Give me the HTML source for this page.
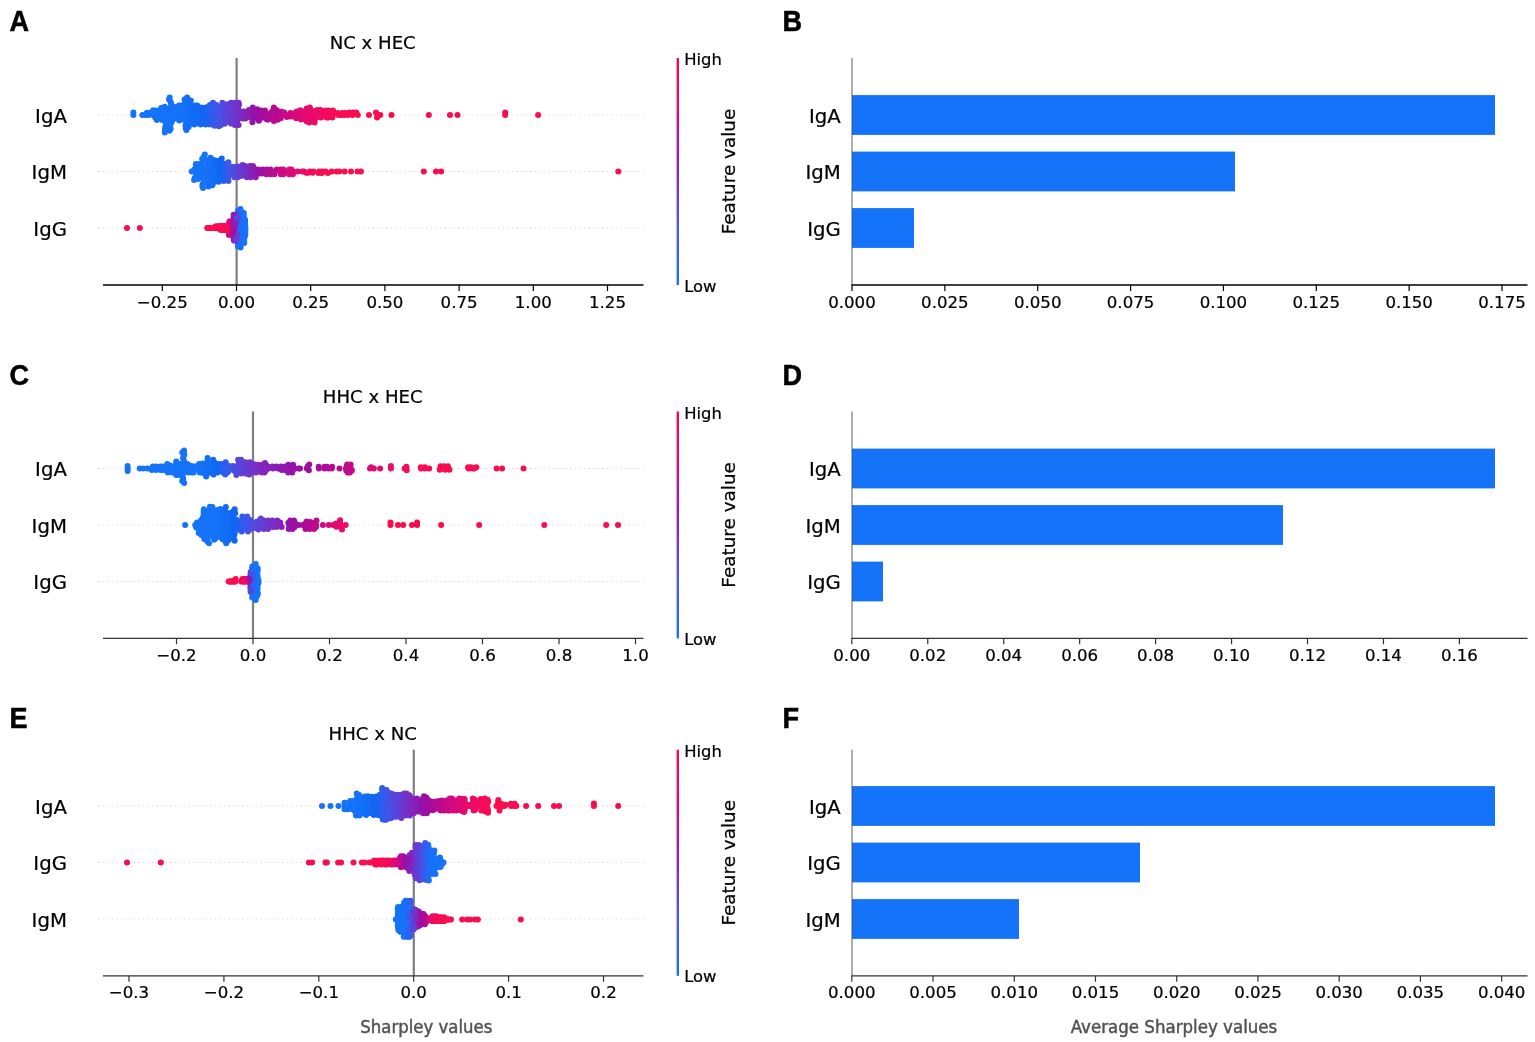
<!DOCTYPE html>
<html><head><meta charset="utf-8"><title>Figure</title>
<style>html,body{margin:0;padding:0;background:#fff;overflow:hidden}svg{display:block}</style></head>
<body>
<svg width="1535" height="1042" viewBox="0 0 1535 1042">
<defs><linearGradient id="cb" x1="0" y1="0" x2="0" y2="1"><stop offset="0" stop-color="#fa0a50"/><stop offset="0.25" stop-color="#d20a82"/><stop offset="0.5" stop-color="#8c28be"/><stop offset="0.75" stop-color="#505ae1"/><stop offset="1" stop-color="#1473fa"/></linearGradient></defs>
<rect width="1535" height="1042" fill="#fff"/>
<text transform="translate(9.5,30.9) scale(0.94,1)" font-size="28.8" font-weight="bold" stroke="#000" stroke-width="0.5" font-family="Liberation Sans, sans-serif" fill="#000">A</text>
<text x="372.7" y="49.2" font-size="18.1" text-anchor="middle" font-family="DejaVu Sans, Liberation Sans, sans-serif" stroke="#000" stroke-width="0.22" fill="#000" >NC x HEC</text>
<line x1="98" x2="644.5" y1="115" y2="115" stroke="#dadada" stroke-width="1" stroke-dasharray="1.4,3.1"/>
<line x1="98" x2="644.5" y1="171.5" y2="171.5" stroke="#dadada" stroke-width="1" stroke-dasharray="1.4,3.1"/>
<line x1="98" x2="644.5" y1="228" y2="228" stroke="#dadada" stroke-width="1" stroke-dasharray="1.4,3.1"/>
<text x="66.9" y="122.6" font-size="19.7" text-anchor="end" font-family="DejaVu Sans, Liberation Sans, sans-serif" stroke="#000" stroke-width="0.22" fill="#000" >IgA</text>
<text x="66.9" y="179.1" font-size="19.7" text-anchor="end" font-family="DejaVu Sans, Liberation Sans, sans-serif" stroke="#000" stroke-width="0.22" fill="#000" >IgM</text>
<text x="66.9" y="235.6" font-size="19.7" text-anchor="end" font-family="DejaVu Sans, Liberation Sans, sans-serif" stroke="#000" stroke-width="0.22" fill="#000" >IgG</text>
<line x1="236.6" x2="236.6" y1="58" y2="285" stroke="#7f7f7f" stroke-width="2.2"/>
<g fill="#1573fa"><circle cx="148.9" cy="115.0" r="3"/><circle cx="169.5" cy="130.8" r="3"/><circle cx="173.6" cy="117.4" r="3"/><circle cx="171.0" cy="106.2" r="3"/><circle cx="153.1" cy="115.0" r="3"/><circle cx="146.9" cy="112.8" r="3"/><circle cx="178.9" cy="105.5" r="3"/><circle cx="150.0" cy="112.7" r="3"/><circle cx="161.3" cy="110.3" r="3"/><circle cx="166.4" cy="112.9" r="3"/><circle cx="156.9" cy="120.1" r="3"/><circle cx="133.4" cy="112.5" r="3"/><circle cx="156.8" cy="110.4" r="3"/><circle cx="155.2" cy="117.5" r="3"/><circle cx="164.8" cy="119.4" r="3"/><circle cx="177.4" cy="118.7" r="3"/><circle cx="164.7" cy="106.7" r="3"/><circle cx="166.3" cy="110.9" r="3"/><circle cx="175.1" cy="107.0" r="3"/><circle cx="170.1" cy="108.4" r="3"/><circle cx="169.4" cy="117.0" r="3"/><circle cx="164.9" cy="130.4" r="3"/><circle cx="165.0" cy="121.6" r="3"/><circle cx="167.2" cy="123.8" r="3"/><circle cx="159.0" cy="115.0" r="3"/><circle cx="169.7" cy="97.4" r="3"/><circle cx="169.7" cy="115.0" r="3"/><circle cx="165.2" cy="115.0" r="3"/><circle cx="159.4" cy="117.6" r="3"/><circle cx="177.0" cy="113.1" r="3"/><circle cx="165.6" cy="126.0" r="3"/><circle cx="169.7" cy="110.6" r="3"/><circle cx="163.1" cy="112.7" r="3"/><circle cx="173.7" cy="115.0" r="3"/><circle cx="173.3" cy="111.0" r="3"/><circle cx="160.9" cy="115.0" r="3"/><circle cx="178.2" cy="116.8" r="3"/><circle cx="162.8" cy="117.6" r="3"/><circle cx="177.1" cy="107.4" r="3"/><circle cx="175.3" cy="109.0" r="3"/><circle cx="162.1" cy="120.1" r="3"/><circle cx="161.2" cy="108.0" r="3"/><circle cx="171.3" cy="104.0" r="3"/><circle cx="167.2" cy="117.2" r="3"/><circle cx="172.6" cy="113.0" r="3"/><circle cx="142.3" cy="115.0" r="3"/><circle cx="153.1" cy="110.2" r="3"/><circle cx="170.6" cy="101.8" r="3"/><circle cx="171.3" cy="122.9" r="3"/><circle cx="170.7" cy="112.8" r="3"/><circle cx="177.4" cy="115.0" r="3"/><circle cx="170.3" cy="120.9" r="3"/><circle cx="170.0" cy="118.9" r="3"/><circle cx="170.0" cy="124.9" r="3"/><circle cx="172.6" cy="119.9" r="3"/><circle cx="169.0" cy="99.6" r="3"/><circle cx="169.1" cy="126.8" r="3"/><circle cx="177.2" cy="111.2" r="3"/><circle cx="156.7" cy="112.7" r="3"/><circle cx="170.7" cy="128.8" r="3"/><circle cx="165.0" cy="128.2" r="3"/><circle cx="145.7" cy="115.0" r="3"/><circle cx="166.4" cy="108.8" r="3"/><circle cx="133.4" cy="115.0" r="3"/><circle cx="164.8" cy="132.6" r="3"/><circle cx="177.6" cy="109.3" r="3"/><circle cx="153.5" cy="112.6" r="3"/></g>
<g fill="#1471f9"><circle cx="181.8" cy="117.4" r="3"/><circle cx="181.6" cy="109.3" r="3"/><circle cx="181.4" cy="105.5" r="3"/><circle cx="181.5" cy="111.2" r="3"/><circle cx="181.3" cy="107.4" r="3"/></g>
<g fill="#1964f1"><circle cx="205.6" cy="116.9" r="3"/><circle cx="205.6" cy="122.6" r="3"/><circle cx="205.6" cy="124.5" r="3"/></g>
<g fill="#136ff7"><circle cx="187.0" cy="110.6" r="3"/><circle cx="187.1" cy="97.4" r="3"/><circle cx="187.2" cy="106.2" r="3"/><circle cx="187.1" cy="117.2" r="3"/></g>
<g fill="#4155e8"><circle cx="216.9" cy="117.2" r="3"/><circle cx="216.9" cy="115.0" r="3"/><circle cx="216.9" cy="113.0" r="3"/></g>
<g fill="#4652e6"><circle cx="218.5" cy="107.0" r="3"/></g>
<g fill="#de0a76"><circle cx="300.9" cy="117.3" r="3"/><circle cx="301.0" cy="119.5" r="3"/></g>
<g fill="#8f18b1"><circle cx="250.8" cy="117.8" r="3"/></g>
<g fill="#6140d6"><circle cx="228.7" cy="113.0" r="3"/><circle cx="228.7" cy="110.9" r="3"/></g>
<g fill="#9314ad"><circle cx="252.9" cy="117.4" r="3"/><circle cx="253.0" cy="119.8" r="3"/></g>
<g fill="#be0a8e"><circle cx="277.1" cy="117.4" r="3"/></g>
<g fill="#7530c8"><circle cx="237.6" cy="113.0" r="3"/></g>
<g fill="#ed0a65"><circle cx="317.3" cy="110.0" r="3"/></g>
<g fill="#e90a6a"><circle cx="312.7" cy="115.0" r="3"/><circle cx="312.3" cy="118.8" r="3"/></g>
<g fill="#2e5dee"><circle cx="211.1" cy="120.7" r="3"/></g>
<g fill="#6f34cc"><circle cx="235.1" cy="110.9" r="3"/></g>
<g fill="#136ff8"><circle cx="186.6" cy="108.4" r="3"/><circle cx="186.4" cy="130.1" r="3"/><circle cx="186.1" cy="123.6" r="3"/><circle cx="185.5" cy="125.8" r="3"/><circle cx="186.2" cy="112.8" r="3"/><circle cx="185.5" cy="119.3" r="3"/><circle cx="185.7" cy="128.0" r="3"/><circle cx="186.3" cy="101.8" r="3"/><circle cx="186.2" cy="121.5" r="3"/></g>
<g fill="#0f67f3"><circle cx="202.8" cy="118.8" r="3"/><circle cx="203.1" cy="109.3" r="3"/><circle cx="202.2" cy="113.1" r="3"/><circle cx="203.1" cy="120.7" r="3"/><circle cx="202.8" cy="115.0" r="3"/></g>
<g fill="#4e4ce1"><circle cx="221.6" cy="119.0" r="3"/><circle cx="221.5" cy="120.9" r="3"/><circle cx="221.6" cy="122.9" r="3"/><circle cx="221.6" cy="113.0" r="3"/></g>
<g fill="#d80a7c"><circle cx="294.8" cy="113.0" r="3"/></g>
<g fill="#6939d0"><circle cx="232.5" cy="106.8" r="3"/><circle cx="232.5" cy="113.0" r="3"/></g>
<g fill="#b00b98"><circle cx="268.8" cy="117.3" r="3"/></g>
<g fill="#524adf"><circle cx="223.1" cy="108.9" r="3"/><circle cx="223.1" cy="104.8" r="3"/><circle cx="223.0" cy="117.0" r="3"/></g>
<g fill="#285fee"><circle cx="209.8" cy="106.9" r="3"/></g>
<g fill="#b70a92"><circle cx="272.9" cy="113.1" r="3"/></g>
<g fill="#1068f4"><circle cx="200.8" cy="111.2" r="3"/><circle cx="200.7" cy="124.5" r="3"/><circle cx="200.5" cy="116.9" r="3"/></g>
<g fill="#e20a71"><circle cx="305.3" cy="119.3" r="3"/><circle cx="305.9" cy="110.7" r="3"/></g>
<g fill="#bf0a8d"><circle cx="277.8" cy="119.7" r="3"/><circle cx="277.9" cy="115.0" r="3"/><circle cx="278.3" cy="112.6" r="3"/></g>
<g fill="#fa0c50"><circle cx="505.2" cy="112.5" r="3"/><circle cx="342.4" cy="113.0" r="3"/><circle cx="377.9" cy="115.0" r="3"/><circle cx="505.2" cy="115.0" r="3"/><circle cx="391.5" cy="115.0" r="3"/><circle cx="344.4" cy="115.0" r="3"/><circle cx="369.0" cy="115.0" r="3"/><circle cx="357.8" cy="115.0" r="3"/><circle cx="428.8" cy="115.0" r="3"/><circle cx="376.0" cy="112.4" r="3"/><circle cx="356.2" cy="112.4" r="3"/><circle cx="345.4" cy="113.0" r="3"/><circle cx="349.4" cy="112.4" r="3"/><circle cx="450.0" cy="115.0" r="3"/><circle cx="380.3" cy="115.0" r="3"/><circle cx="352.9" cy="112.4" r="3"/><circle cx="457.5" cy="115.0" r="3"/><circle cx="352.5" cy="115.0" r="3"/><circle cx="377.0" cy="117.6" r="3"/><circle cx="348.0" cy="115.0" r="3"/><circle cx="341.4" cy="115.0" r="3"/><circle cx="538.1" cy="115.0" r="3"/></g>
<g fill="#126ef7"><circle cx="188.6" cy="102.6" r="3"/><circle cx="188.7" cy="115.0" r="3"/><circle cx="188.6" cy="127.0" r="3"/><circle cx="189.2" cy="106.7" r="3"/><circle cx="188.9" cy="125.0" r="3"/><circle cx="188.6" cy="121.0" r="3"/></g>
<g fill="#355aec"><circle cx="213.0" cy="102.7" r="3"/><circle cx="213.0" cy="113.0" r="3"/><circle cx="213.2" cy="123.5" r="3"/></g>
<g fill="#116bf5"><circle cx="195.3" cy="122.6" r="3"/><circle cx="194.8" cy="105.5" r="3"/><circle cx="194.8" cy="115.0" r="3"/><circle cx="194.3" cy="124.5" r="3"/><circle cx="194.1" cy="111.2" r="3"/><circle cx="195.2" cy="116.9" r="3"/></g>
<g fill="#e50a6e"><circle cx="308.6" cy="120.7" r="3"/><circle cx="308.6" cy="115.0" r="3"/></g>
<g fill="#de0a75"><circle cx="301.8" cy="112.6" r="3"/><circle cx="301.8" cy="115.0" r="3"/></g>
<g fill="#5c43d9"><circle cx="226.7" cy="117.2" r="3"/><circle cx="226.8" cy="121.6" r="3"/></g>
<g fill="#d10a81"><circle cx="290.2" cy="115.0" r="3"/><circle cx="290.3" cy="116.4" r="3"/></g>
<g fill="#6f35cc"><circle cx="234.8" cy="124.9" r="3"/><circle cx="234.9" cy="117.0" r="3"/></g>
<g fill="#6b38cf"><circle cx="233.0" cy="108.9" r="3"/></g>
<g fill="#6f35cd"><circle cx="234.7" cy="102.7" r="3"/><circle cx="234.8" cy="119.0" r="3"/></g>
<g fill="#8d1ab3"><circle cx="250.1" cy="115.0" r="3"/><circle cx="249.9" cy="112.4" r="3"/></g>
<g fill="#c20a8b"><circle cx="280.2" cy="116.6" r="3"/></g>
<g fill="#e60a6c"><circle cx="310.2" cy="111.2" r="3"/><circle cx="309.9" cy="107.4" r="3"/><circle cx="310.0" cy="116.9" r="3"/><circle cx="310.2" cy="118.8" r="3"/></g>
<g fill="#a90c9c"><circle cx="265.4" cy="117.3" r="3"/><circle cx="265.5" cy="112.7" r="3"/></g>
<g fill="#f00a60"><circle cx="322.6" cy="112.4" r="3"/></g>
<g fill="#1b63f1"><circle cx="206.3" cy="115.0" r="3"/></g>
<g fill="#653dd3"><circle cx="230.4" cy="117.1" r="3"/></g>
<g fill="#8027c0"><circle cx="242.5" cy="115.0" r="3"/><circle cx="242.6" cy="118.5" r="3"/><circle cx="242.7" cy="113.2" r="3"/></g>
<g fill="#9c0ea5"><circle cx="258.3" cy="111.1" r="3"/></g>
<g fill="#1069f4"><circle cx="197.9" cy="109.3" r="3"/><circle cx="198.7" cy="115.0" r="3"/><circle cx="199.2" cy="123.4" r="3"/><circle cx="198.7" cy="111.2" r="3"/><circle cx="198.1" cy="107.4" r="3"/></g>
<g fill="#663cd2"><circle cx="231.0" cy="102.7" r="3"/></g>
<g fill="#126df6"><circle cx="190.9" cy="119.0" r="3"/><circle cx="191.1" cy="117.0" r="3"/><circle cx="191.2" cy="108.8" r="3"/><circle cx="190.8" cy="100.5" r="3"/><circle cx="191.1" cy="112.9" r="3"/></g>
<g fill="#762fc7"><circle cx="238.1" cy="119.0" r="3"/></g>
<g fill="#1472f9"><circle cx="180.6" cy="119.7" r="3"/><circle cx="181.0" cy="115.0" r="3"/></g>
<g fill="#f50b58"><circle cx="332.4" cy="117.6" r="3"/><circle cx="332.8" cy="115.0" r="3"/></g>
<g fill="#4254e7"><circle cx="217.4" cy="121.7" r="3"/></g>
<g fill="#eb0a68"><circle cx="314.6" cy="122.6" r="3"/><circle cx="314.5" cy="120.7" r="3"/></g>
<g fill="#514adf"><circle cx="222.8" cy="115.0" r="3"/></g>
<g fill="#b80a92"><circle cx="273.5" cy="118.9" r="3"/></g>
<g fill="#e30a70"><circle cx="306.6" cy="108.6" r="3"/><circle cx="306.8" cy="117.1" r="3"/><circle cx="306.7" cy="121.4" r="3"/></g>
<g fill="#eb0a67"><circle cx="314.8" cy="111.1" r="3"/></g>
<g fill="#1c63f1"><circle cx="206.4" cy="107.2" r="3"/></g>
<g fill="#b90a91"><circle cx="273.8" cy="107.4" r="3"/><circle cx="273.9" cy="117.0" r="3"/><circle cx="273.9" cy="120.9" r="3"/></g>
<g fill="#106af5"><circle cx="197.2" cy="105.5" r="3"/><circle cx="197.0" cy="113.1" r="3"/><circle cx="196.9" cy="121.3" r="3"/><circle cx="196.9" cy="119.2" r="3"/></g>
<g fill="#633ed5"><circle cx="229.5" cy="115.0" r="3"/></g>
<g fill="#b30b95"><circle cx="271.0" cy="112.4" r="3"/></g>
<g fill="#1370f8"><circle cx="184.7" cy="115.0" r="3"/><circle cx="184.7" cy="104.0" r="3"/><circle cx="184.5" cy="99.6" r="3"/></g>
<g fill="#2d5dee"><circle cx="210.9" cy="113.0" r="3"/></g>
<g fill="#4254e8"><circle cx="217.2" cy="119.5" r="3"/><circle cx="217.2" cy="109.0" r="3"/><circle cx="217.1" cy="124.0" r="3"/></g>
<g fill="#a80d9d"><circle cx="264.9" cy="110.5" r="3"/></g>
<g fill="#f20b5e"><circle cx="325.5" cy="110.5" r="3"/><circle cx="325.4" cy="115.0" r="3"/></g>
<g fill="#116af5"><circle cx="196.7" cy="117.1" r="3"/></g>
<g fill="#2c5dee"><circle cx="210.7" cy="122.6" r="3"/></g>
<g fill="#2560ef"><circle cx="208.8" cy="110.9" r="3"/></g>
<g fill="#af0c98"><circle cx="268.4" cy="119.5" r="3"/></g>
<g fill="#ee0a63"><circle cx="318.7" cy="115.0" r="3"/><circle cx="318.7" cy="112.5" r="3"/></g>
<g fill="#f10b5f"><circle cx="324.1" cy="112.7" r="3"/></g>
<g fill="#ac0c9a"><circle cx="266.9" cy="115.0" r="3"/><circle cx="266.9" cy="119.5" r="3"/></g>
<g fill="#d90a7b"><circle cx="296.3" cy="118.3" r="3"/></g>
<g fill="#3c58eb"><circle cx="215.1" cy="121.4" r="3"/><circle cx="214.9" cy="117.1" r="3"/><circle cx="215.0" cy="108.9" r="3"/></g>
<g fill="#c40a89"><circle cx="281.6" cy="111.7" r="3"/></g>
<g fill="#5d43d8"><circle cx="227.1" cy="104.2" r="3"/></g>
<g fill="#116cf6"><circle cx="193.6" cy="113.1" r="3"/><circle cx="193.2" cy="118.8" r="3"/><circle cx="192.6" cy="107.4" r="3"/><circle cx="192.8" cy="120.7" r="3"/></g>
<g fill="#4055e9"><circle cx="216.5" cy="105.0" r="3"/></g>
<g fill="#1572fa"><circle cx="179.3" cy="120.5" r="3"/></g>
<g fill="#295eee"><circle cx="210.0" cy="118.8" r="3"/><circle cx="209.9" cy="124.5" r="3"/><circle cx="209.9" cy="104.9" r="3"/></g>
<g fill="#375aec"><circle cx="213.7" cy="115.0" r="3"/></g>
<g fill="#d60a7e"><circle cx="293.1" cy="116.4" r="3"/></g>
<g fill="#772ec7"><circle cx="238.6" cy="102.8" r="3"/><circle cx="238.6" cy="124.9" r="3"/><circle cx="238.5" cy="108.9" r="3"/></g>
<g fill="#d70a7d"><circle cx="293.7" cy="115.0" r="3"/></g>
<g fill="#7e29c2"><circle cx="241.5" cy="116.7" r="3"/></g>
<g fill="#8522bb"><circle cx="245.5" cy="116.7" r="3"/><circle cx="245.4" cy="118.4" r="3"/></g>
<g fill="#f60b57"><circle cx="333.1" cy="112.7" r="3"/><circle cx="333.0" cy="110.5" r="3"/></g>
<g fill="#2b5eee"><circle cx="210.5" cy="108.9" r="3"/><circle cx="210.4" cy="115.0" r="3"/></g>
<g fill="#881fb8"><circle cx="246.9" cy="113.3" r="3"/></g>
<g fill="#5647dc"><circle cx="224.8" cy="112.8" r="3"/><circle cx="224.7" cy="123.8" r="3"/></g>
<g fill="#8b1cb5"><circle cx="248.8" cy="109.9" r="3"/></g>
<g fill="#f00a61"><circle cx="321.0" cy="117.6" r="3"/><circle cx="321.7" cy="115.0" r="3"/></g>
<g fill="#bd0a8e"><circle cx="276.9" cy="110.3" r="3"/></g>
<g fill="#7431c9"><circle cx="237.1" cy="117.0" r="3"/><circle cx="236.9" cy="115.0" r="3"/><circle cx="236.9" cy="122.9" r="3"/><circle cx="237.1" cy="120.9" r="3"/></g>
<g fill="#9a0fa6"><circle cx="257.3" cy="109.2" r="3"/></g>
<g fill="#9a0fa7"><circle cx="256.9" cy="115.0" r="3"/></g>
<g fill="#ef0a62"><circle cx="320.5" cy="109.9" r="3"/></g>
<g fill="#265fef"><circle cx="209.2" cy="116.9" r="3"/></g>
<g fill="#653cd3"><circle cx="230.5" cy="104.8" r="3"/></g>
<g fill="#0f68f3"><circle cx="201.7" cy="122.6" r="3"/><circle cx="201.7" cy="107.4" r="3"/></g>
<g fill="#8126bf"><circle cx="243.1" cy="111.4" r="3"/></g>
<g fill="#1a63f1"><circle cx="205.9" cy="109.2" r="3"/><circle cx="206.0" cy="120.7" r="3"/></g>
<g fill="#126df7"><circle cx="190.2" cy="123.0" r="3"/><circle cx="189.5" cy="110.9" r="3"/><circle cx="190.5" cy="104.6" r="3"/></g>
<g fill="#4751e5"><circle cx="218.9" cy="126.2" r="3"/></g>
<g fill="#3959ec"><circle cx="214.1" cy="104.8" r="3"/></g>
<g fill="#990fa7"><circle cx="256.8" cy="116.9" r="3"/></g>
<g fill="#4c4de2"><circle cx="221.0" cy="110.9" r="3"/><circle cx="221.0" cy="124.9" r="3"/></g>
<g fill="#9215ae"><circle cx="252.6" cy="113.1" r="3"/><circle cx="252.7" cy="107.4" r="3"/></g>
<g fill="#4453e7"><circle cx="217.8" cy="111.0" r="3"/></g>
<g fill="#5b44d9"><circle cx="226.4" cy="108.5" r="3"/></g>
<g fill="#9d0ea5"><circle cx="258.7" cy="118.9" r="3"/><circle cx="258.7" cy="113.1" r="3"/></g>
<g fill="#f30b5b"><circle cx="328.2" cy="117.6" r="3"/><circle cx="328.6" cy="110.5" r="3"/><circle cx="328.9" cy="115.0" r="3"/></g>
<g fill="#e20a72"><circle cx="305.0" cy="112.9" r="3"/></g>
<g fill="#116bf6"><circle cx="193.8" cy="109.3" r="3"/></g>
<g fill="#1470f9"><circle cx="183.2" cy="113.1" r="3"/></g>
<g fill="#3a59eb"><circle cx="214.5" cy="125.7" r="3"/></g>
<g fill="#d20a81"><circle cx="290.4" cy="113.0" r="3"/></g>
<g fill="#9611aa"><circle cx="254.9" cy="115.0" r="3"/></g>
<g fill="#6a38cf"><circle cx="233.0" cy="120.9" r="3"/></g>
<g fill="#ba0a90"><circle cx="274.6" cy="109.3" r="3"/><circle cx="274.7" cy="115.0" r="3"/></g>
<g fill="#f20b5d"><circle cx="326.4" cy="117.6" r="3"/></g>
<g fill="#e60a6d"><circle cx="309.8" cy="113.1" r="3"/><circle cx="309.4" cy="122.6" r="3"/></g>
<g fill="#1565f2"><circle cx="204.5" cy="118.8" r="3"/></g>
<g fill="#5746db"><circle cx="225.2" cy="115.0" r="3"/></g>
<g fill="#5a44da"><circle cx="226.3" cy="106.4" r="3"/><circle cx="226.3" cy="110.7" r="3"/></g>
<g fill="#9413ac"><circle cx="253.8" cy="109.3" r="3"/></g>
<g fill="#643dd4"><circle cx="230.1" cy="121.4" r="3"/></g>
<g fill="#a20ea1"><circle cx="261.3" cy="112.7" r="3"/><circle cx="261.3" cy="110.5" r="3"/><circle cx="261.2" cy="115.0" r="3"/></g>
<g fill="#da0a7a"><circle cx="297.3" cy="116.7" r="3"/><circle cx="296.8" cy="113.2" r="3"/></g>
<g fill="#663bd2"><circle cx="231.1" cy="119.3" r="3"/></g>
<g fill="#1764f2"><circle cx="205.1" cy="113.1" r="3"/></g>
<g fill="#8423bc"><circle cx="244.9" cy="115.0" r="3"/><circle cx="245.1" cy="111.7" r="3"/></g>
<g fill="#7332ca"><circle cx="236.6" cy="106.8" r="3"/></g>
<g fill="#f40b59"><circle cx="330.7" cy="112.7" r="3"/></g>
<g fill="#dd0a76"><circle cx="300.4" cy="110.2" r="3"/></g>
<g fill="#782ec6"><circle cx="239.0" cy="104.8" r="3"/></g>
<g fill="#4d4de1"><circle cx="221.3" cy="106.8" r="3"/></g>
<g fill="#1d62f1"><circle cx="206.6" cy="111.1" r="3"/></g>
<g fill="#9d0ea4"><circle cx="258.9" cy="120.8" r="3"/></g>
<g fill="#a40da0"><circle cx="262.6" cy="117.8" r="3"/></g>
<g fill="#dc0a78"><circle cx="298.8" cy="115.0" r="3"/></g>
<g fill="#f80c53"><circle cx="338.3" cy="115.0" r="3"/><circle cx="337.8" cy="113.0" r="3"/></g>
<g fill="#9512ab"><circle cx="254.2" cy="111.2" r="3"/></g>
<g fill="#e90a69"><circle cx="312.9" cy="113.1" r="3"/></g>
<g fill="#c40a8a"><circle cx="281.4" cy="115.0" r="3"/><circle cx="281.4" cy="113.4" r="3"/></g>
<g fill="#633ed4"><circle cx="229.7" cy="106.8" r="3"/><circle cx="229.7" cy="108.9" r="3"/></g>
<g fill="#6d36cd"><circle cx="234.3" cy="115.0" r="3"/></g>
<g fill="#504be0"><circle cx="222.4" cy="102.7" r="3"/></g>
<g fill="#365aec"><circle cx="213.4" cy="119.3" r="3"/><circle cx="213.3" cy="110.9" r="3"/></g>
<g fill="#9116af"><circle cx="252.4" cy="122.2" r="3"/></g>
<g fill="#7630c8"><circle cx="237.8" cy="110.9" r="3"/></g>
<g fill="#ec0a66"><circle cx="316.3" cy="117.6" r="3"/></g>
<g fill="#c80a87"><circle cx="284.2" cy="112.5" r="3"/></g>
<g fill="#cc0a84"><circle cx="286.8" cy="116.9" r="3"/></g>
<g fill="#e10a72"><circle cx="304.2" cy="115.0" r="3"/></g>
<g fill="#e70a6c"><circle cx="310.2" cy="109.3" r="3"/></g>
<g fill="#5846db"><circle cx="225.4" cy="119.4" r="3"/></g>
<g fill="#b60a93"><circle cx="272.4" cy="111.2" r="3"/></g>
<g fill="#6e36cd"><circle cx="234.5" cy="122.9" r="3"/></g>
<g fill="#663cd3"><circle cx="230.8" cy="123.6" r="3"/></g>
<g fill="#345bec"><circle cx="213.0" cy="106.8" r="3"/></g>
<g fill="#b20b96"><circle cx="270.4" cy="115.0" r="3"/></g>
<g fill="#c30a8a"><circle cx="280.7" cy="118.3" r="3"/></g>
<g fill="#e80a6a"><circle cx="312.2" cy="116.9" r="3"/></g>
<g fill="#cc0a85"><circle cx="286.4" cy="115.0" r="3"/></g>
<g fill="#d90a7a"><circle cx="296.6" cy="111.5" r="3"/></g>
<g fill="#6d36ce"><circle cx="234.0" cy="104.8" r="3"/></g>
<g fill="#673bd2"><circle cx="240.4" cy="167.2" r="3"/></g>
<g fill="#d30a80"><circle cx="285.0" cy="171.5" r="3"/></g>
<g fill="#126df7"><circle cx="212.8" cy="165.6" r="3"/><circle cx="212.9" cy="181.3" r="3"/><circle cx="212.4" cy="185.3" r="3"/><circle cx="212.7" cy="175.4" r="3"/><circle cx="212.5" cy="183.3" r="3"/></g>
<g fill="#fa0c50"><circle cx="357.5" cy="171.5" r="3"/><circle cx="618.3" cy="171.5" r="3"/><circle cx="339.3" cy="171.5" r="3"/><circle cx="327.9" cy="173.1" r="3"/><circle cx="423.8" cy="171.5" r="3"/><circle cx="360.9" cy="171.5" r="3"/><circle cx="331.7" cy="171.5" r="3"/><circle cx="344.7" cy="171.5" r="3"/><circle cx="436.0" cy="171.5" r="3"/><circle cx="441.1" cy="171.5" r="3"/><circle cx="336.6" cy="171.5" r="3"/><circle cx="351.0" cy="171.5" r="3"/><circle cx="325.5" cy="171.5" r="3"/></g>
<g fill="#1573fa"><circle cx="196.3" cy="173.6" r="3"/><circle cx="198.2" cy="178.9" r="3"/><circle cx="198.3" cy="165.9" r="3"/><circle cx="196.0" cy="165.9" r="3"/><circle cx="203.3" cy="160.9" r="3"/><circle cx="197.7" cy="167.8" r="3"/><circle cx="202.2" cy="158.8" r="3"/><circle cx="202.1" cy="167.3" r="3"/><circle cx="196.3" cy="175.7" r="3"/><circle cx="202.4" cy="173.6" r="3"/><circle cx="194.1" cy="180.0" r="3"/><circle cx="203.8" cy="171.5" r="3"/><circle cx="196.3" cy="167.8" r="3"/><circle cx="194.3" cy="169.6" r="3"/><circle cx="197.8" cy="173.4" r="3"/><circle cx="204.0" cy="156.6" r="3"/><circle cx="203.2" cy="175.6" r="3"/><circle cx="204.0" cy="181.9" r="3"/><circle cx="198.0" cy="177.1" r="3"/><circle cx="199.9" cy="169.6" r="3"/><circle cx="194.7" cy="177.9" r="3"/><circle cx="195.8" cy="164.1" r="3"/><circle cx="191.7" cy="171.5" r="3"/><circle cx="203.8" cy="179.8" r="3"/><circle cx="199.3" cy="171.5" r="3"/><circle cx="203.0" cy="169.4" r="3"/><circle cx="202.3" cy="163.0" r="3"/><circle cx="194.6" cy="171.5" r="3"/><circle cx="202.8" cy="165.1" r="3"/><circle cx="202.3" cy="186.0" r="3"/><circle cx="204.8" cy="154.5" r="3"/><circle cx="199.4" cy="164.0" r="3"/><circle cx="202.7" cy="183.9" r="3"/><circle cx="198.6" cy="175.2" r="3"/><circle cx="203.0" cy="188.1" r="3"/><circle cx="204.5" cy="177.7" r="3"/></g>
<g fill="#275fef"><circle cx="224.7" cy="165.4" r="3"/><circle cx="224.7" cy="176.2" r="3"/></g>
<g fill="#136ff8"><circle cx="210.5" cy="157.7" r="3"/></g>
<g fill="#7431c9"><circle cx="245.2" cy="173.4" r="3"/><circle cx="245.3" cy="169.6" r="3"/><circle cx="245.3" cy="165.9" r="3"/></g>
<g fill="#5349de"><circle cx="234.3" cy="177.3" r="3"/><circle cx="234.3" cy="175.3" r="3"/></g>
<g fill="#df0a75"><circle cx="292.9" cy="174.2" r="3"/><circle cx="293.1" cy="171.5" r="3"/></g>
<g fill="#1470f8"><circle cx="208.8" cy="162.3" r="3"/><circle cx="208.5" cy="180.0" r="3"/><circle cx="208.5" cy="186.4" r="3"/><circle cx="208.4" cy="184.3" r="3"/><circle cx="208.9" cy="182.1" r="3"/><circle cx="208.5" cy="164.6" r="3"/></g>
<g fill="#0f68f3"><circle cx="220.1" cy="175.6" r="3"/><circle cx="219.9" cy="167.2" r="3"/><circle cx="220.1" cy="179.6" r="3"/><circle cx="220.1" cy="160.8" r="3"/></g>
<g fill="#d70a7d"><circle cx="287.1" cy="171.5" r="3"/></g>
<g fill="#c20a8b"><circle cx="276.7" cy="169.6" r="3"/></g>
<g fill="#106af4"><circle cx="217.6" cy="171.5" r="3"/></g>
<g fill="#2061f0"><circle cx="223.6" cy="163.4" r="3"/></g>
<g fill="#7332ca"><circle cx="244.7" cy="171.5" r="3"/></g>
<g fill="#4353e7"><circle cx="229.9" cy="173.9" r="3"/></g>
<g fill="#f80c53"><circle cx="321.9" cy="173.1" r="3"/><circle cx="322.0" cy="171.5" r="3"/></g>
<g fill="#bf0a8d"><circle cx="275.1" cy="171.5" r="3"/></g>
<g fill="#3d57ea"><circle cx="228.3" cy="164.6" r="3"/><circle cx="228.4" cy="162.3" r="3"/><circle cx="228.2" cy="176.2" r="3"/></g>
<g fill="#116bf5"><circle cx="215.3" cy="175.6" r="3"/><circle cx="215.5" cy="177.7" r="3"/><circle cx="215.7" cy="167.2" r="3"/></g>
<g fill="#126df6"><circle cx="213.2" cy="163.6" r="3"/><circle cx="213.3" cy="161.7" r="3"/><circle cx="213.3" cy="159.7" r="3"/><circle cx="213.3" cy="169.5" r="3"/><circle cx="213.0" cy="167.6" r="3"/></g>
<g fill="#1472f9"><circle cx="206.6" cy="169.2" r="3"/></g>
<g fill="#613fd5"><circle cx="238.4" cy="166.6" r="3"/></g>
<g fill="#da0a7a"><circle cx="289.4" cy="169.6" r="3"/><circle cx="289.1" cy="174.2" r="3"/></g>
<g fill="#b90a91"><circle cx="271.9" cy="171.5" r="3"/></g>
<g fill="#f10b5f"><circle cx="310.0" cy="171.5" r="3"/></g>
<g fill="#4254e7"><circle cx="229.7" cy="171.5" r="3"/></g>
<g fill="#116cf6"><circle cx="214.9" cy="162.9" r="3"/><circle cx="215.0" cy="181.8" r="3"/></g>
<g fill="#3c58eb"><circle cx="227.9" cy="178.6" r="3"/></g>
<g fill="#514adf"><circle cx="233.8" cy="166.8" r="3"/></g>
<g fill="#f60b56"><circle cx="319.1" cy="171.5" r="3"/></g>
<g fill="#6041d7"><circle cx="237.7" cy="177.3" r="3"/></g>
<g fill="#1366f2"><circle cx="221.7" cy="158.6" r="3"/></g>
<g fill="#8126bf"><circle cx="250.0" cy="167.8" r="3"/><circle cx="250.0" cy="165.9" r="3"/><circle cx="250.1" cy="171.5" r="3"/></g>
<g fill="#8f18b1"><circle cx="255.7" cy="177.3" r="3"/></g>
<g fill="#a10ea2"><circle cx="262.8" cy="171.5" r="3"/><circle cx="262.9" cy="169.6" r="3"/></g>
<g fill="#6a39d0"><circle cx="241.5" cy="176.1" r="3"/></g>
<g fill="#2b5eee"><circle cx="225.4" cy="169.5" r="3"/></g>
<g fill="#0f67f3"><circle cx="220.7" cy="177.6" r="3"/><circle cx="220.5" cy="162.9" r="3"/></g>
<g fill="#6d36ce"><circle cx="242.6" cy="165.0" r="3"/><circle cx="242.6" cy="171.5" r="3"/></g>
<g fill="#1471f9"><circle cx="207.8" cy="175.8" r="3"/><circle cx="207.5" cy="166.9" r="3"/><circle cx="207.4" cy="173.6" r="3"/><circle cx="208.2" cy="160.0" r="3"/></g>
<g fill="#9314ad"><circle cx="257.6" cy="171.5" r="3"/></g>
<g fill="#cb0a85"><circle cx="280.8" cy="174.2" r="3"/><circle cx="280.9" cy="169.6" r="3"/></g>
<g fill="#116af5"><circle cx="216.6" cy="160.7" r="3"/><circle cx="216.8" cy="169.3" r="3"/><circle cx="216.9" cy="165.0" r="3"/></g>
<g fill="#1370f8"><circle cx="209.0" cy="171.5" r="3"/><circle cx="209.0" cy="177.9" r="3"/></g>
<g fill="#2460ef"><circle cx="224.2" cy="167.4" r="3"/></g>
<g fill="#7f28c1"><circle cx="249.5" cy="173.4" r="3"/></g>
<g fill="#8225be"><circle cx="250.6" cy="177.3" r="3"/></g>
<g fill="#881fb8"><circle cx="253.1" cy="171.5" r="3"/><circle cx="253.0" cy="165.9" r="3"/></g>
<g fill="#ad0c99"><circle cx="267.5" cy="171.5" r="3"/></g>
<g fill="#f30b5c"><circle cx="313.4" cy="171.5" r="3"/><circle cx="312.6" cy="172.7" r="3"/></g>
<g fill="#7232ca"><circle cx="244.4" cy="167.8" r="3"/></g>
<g fill="#623fd5"><circle cx="238.7" cy="175.3" r="3"/><circle cx="238.5" cy="173.4" r="3"/></g>
<g fill="#8a1db6"><circle cx="253.8" cy="167.8" r="3"/></g>
<g fill="#eb0a68"><circle cx="302.4" cy="171.5" r="3"/></g>
<g fill="#136ff7"><circle cx="210.8" cy="177.4" r="3"/></g>
<g fill="#4453e6"><circle cx="230.3" cy="166.9" r="3"/></g>
<g fill="#aa0c9b"><circle cx="266.4" cy="174.2" r="3"/></g>
<g fill="#b50b94"><circle cx="270.5" cy="169.6" r="3"/><circle cx="270.5" cy="174.2" r="3"/></g>
<g fill="#ac0c9a"><circle cx="266.9" cy="169.6" r="3"/></g>
<g fill="#9512ab"><circle cx="258.5" cy="169.6" r="3"/></g>
<g fill="#116bf6"><circle cx="215.1" cy="173.6" r="3"/></g>
<g fill="#f60b57"><circle cx="318.5" cy="173.1" r="3"/></g>
<g fill="#8b1cb5"><circle cx="254.3" cy="175.3" r="3"/></g>
<g fill="#4d4de1"><circle cx="232.7" cy="169.1" r="3"/></g>
<g fill="#5c43d9"><circle cx="236.7" cy="169.1" r="3"/></g>
<g fill="#1067f3"><circle cx="221.1" cy="165.1" r="3"/><circle cx="221.2" cy="169.4" r="3"/></g>
<g fill="#ca0a86"><circle cx="280.4" cy="171.5" r="3"/></g>
<g fill="#5f41d7"><circle cx="237.5" cy="171.5" r="3"/></g>
<g fill="#f00a61"><circle cx="308.2" cy="172.7" r="3"/></g>
<g fill="#2c5dee"><circle cx="225.5" cy="178.6" r="3"/></g>
<g fill="#be0a8e"><circle cx="274.4" cy="174.2" r="3"/></g>
<g fill="#2560ef"><circle cx="224.5" cy="173.9" r="3"/></g>
<g fill="#6c37cf"><circle cx="242.2" cy="169.3" r="3"/></g>
<g fill="#8423bc"><circle cx="251.2" cy="169.6" r="3"/></g>
<g fill="#1069f4"><circle cx="218.9" cy="181.7" r="3"/></g>
<g fill="#e50a6e"><circle cx="297.6" cy="171.5" r="3"/></g>
<g fill="#3e57ea"><circle cx="228.5" cy="180.9" r="3"/></g>
<g fill="#683ad1"><circle cx="240.9" cy="173.8" r="3"/></g>
<g fill="#3d58eb"><circle cx="228.2" cy="169.2" r="3"/></g>
<g fill="#1266f2"><circle cx="221.5" cy="171.5" r="3"/></g>
<g fill="#792dc6"><circle cx="247.0" cy="175.3" r="3"/><circle cx="246.9" cy="177.3" r="3"/></g>
<g fill="#ed0a65"><circle cx="304.0" cy="171.5" r="3"/></g>
<g fill="#0f68f4"><circle cx="219.7" cy="173.5" r="3"/></g>
<g fill="#d00a82"><circle cx="283.4" cy="169.6" r="3"/><circle cx="283.4" cy="174.2" r="3"/></g>
<g fill="#ef0a63"><circle cx="306.3" cy="172.7" r="3"/></g>
<g fill="#980fa8"><circle cx="259.5" cy="173.6" r="3"/></g>
<g fill="#891eb7"><circle cx="253.4" cy="169.6" r="3"/></g>
<g fill="#9f0ea3"><circle cx="262.3" cy="173.6" r="3"/></g>
<g fill="#2161f0"><circle cx="223.8" cy="171.5" r="3"/><circle cx="223.8" cy="180.9" r="3"/></g>
<g fill="#4e4ce0"><circle cx="233.0" cy="171.5" r="3"/></g>
<g fill="#136ef7"><circle cx="211.3" cy="173.5" r="3"/><circle cx="211.4" cy="171.5" r="3"/></g>
<g fill="#4c4de2"><circle cx="232.5" cy="173.4" r="3"/></g>
<g fill="#126ef7"><circle cx="212.3" cy="179.4" r="3"/></g>
<g fill="#8324bd"><circle cx="251.0" cy="175.3" r="3"/></g>
<g fill="#dd0a77"><circle cx="291.4" cy="169.6" r="3"/></g>
<g fill="#8c1bb4"><circle cx="254.8" cy="173.4" r="3"/></g>
<g fill="#106af5"><circle cx="217.4" cy="179.8" r="3"/></g>
<g fill="#8d1ab3"><circle cx="234.6" cy="221.5" r="3"/><circle cx="235.0" cy="223.6" r="3"/></g>
<g fill="#1573fa"><circle cx="240.5" cy="243.2" r="3"/><circle cx="244.3" cy="223.7" r="3"/><circle cx="241.3" cy="235.9" r="3"/><circle cx="243.1" cy="224.2" r="3"/><circle cx="242.8" cy="222.3" r="3"/><circle cx="244.9" cy="236.2" r="3"/><circle cx="241.6" cy="214.8" r="3"/><circle cx="244.2" cy="243.1" r="3"/><circle cx="239.2" cy="244.5" r="3"/><circle cx="243.6" cy="215.0" r="3"/><circle cx="242.8" cy="220.4" r="3"/><circle cx="241.5" cy="241.8" r="3"/><circle cx="243.1" cy="231.8" r="3"/><circle cx="241.3" cy="221.4" r="3"/><circle cx="239.6" cy="246.6" r="3"/><circle cx="245.1" cy="219.8" r="3"/><circle cx="239.2" cy="215.4" r="3"/><circle cx="243.2" cy="229.9" r="3"/><circle cx="239.5" cy="211.2" r="3"/><circle cx="243.0" cy="228.0" r="3"/><circle cx="240.5" cy="245.3" r="3"/><circle cx="241.4" cy="233.9" r="3"/><circle cx="240.6" cy="247.5" r="3"/><circle cx="240.5" cy="238.8" r="3"/><circle cx="239.1" cy="242.5" r="3"/><circle cx="244.3" cy="225.8" r="3"/><circle cx="241.7" cy="223.6" r="3"/><circle cx="240.5" cy="209.1" r="3"/><circle cx="243.2" cy="233.6" r="3"/><circle cx="240.4" cy="241.0" r="3"/><circle cx="245.3" cy="234.2" r="3"/><circle cx="240.5" cy="236.7" r="3"/><circle cx="245.2" cy="232.1" r="3"/><circle cx="243.8" cy="236.6" r="3"/><circle cx="240.7" cy="213.3" r="3"/><circle cx="243.8" cy="217.2" r="3"/><circle cx="241.6" cy="239.8" r="3"/><circle cx="240.6" cy="219.6" r="3"/><circle cx="245.4" cy="230.1" r="3"/><circle cx="244.3" cy="228.0" r="3"/><circle cx="243.5" cy="234.5" r="3"/><circle cx="242.0" cy="230.0" r="3"/><circle cx="244.0" cy="221.5" r="3"/><circle cx="242.0" cy="217.0" r="3"/><circle cx="243.1" cy="218.5" r="3"/><circle cx="241.7" cy="225.8" r="3"/><circle cx="245.1" cy="221.8" r="3"/><circle cx="240.9" cy="215.4" r="3"/><circle cx="243.8" cy="232.3" r="3"/><circle cx="241.6" cy="212.6" r="3"/><circle cx="243.9" cy="230.2" r="3"/><circle cx="240.8" cy="211.2" r="3"/><circle cx="243.8" cy="212.9" r="3"/><circle cx="240.3" cy="221.7" r="3"/><circle cx="245.0" cy="223.9" r="3"/><circle cx="239.7" cy="217.5" r="3"/><circle cx="241.3" cy="231.9" r="3"/><circle cx="241.8" cy="219.2" r="3"/><circle cx="242.6" cy="235.5" r="3"/><circle cx="240.3" cy="234.5" r="3"/><circle cx="244.2" cy="238.8" r="3"/><circle cx="241.7" cy="228.0" r="3"/><circle cx="240.2" cy="217.5" r="3"/><circle cx="243.2" cy="226.1" r="3"/><circle cx="244.2" cy="241.0" r="3"/><circle cx="241.5" cy="237.9" r="3"/><circle cx="244.1" cy="219.4" r="3"/><circle cx="245.2" cy="225.9" r="3"/><circle cx="245.4" cy="228.0" r="3"/><circle cx="239.4" cy="213.3" r="3"/></g>
<g fill="#4552e6"><circle cx="237.4" cy="216.3" r="3"/><circle cx="237.9" cy="219.2" r="3"/></g>
<g fill="#e70a6c"><circle cx="229.2" cy="230.3" r="3"/></g>
<g fill="#e00a73"><circle cx="229.8" cy="225.9" r="3"/><circle cx="229.3" cy="232.7" r="3"/><circle cx="228.9" cy="235.0" r="3"/></g>
<g fill="#fa0c50"><circle cx="225.4" cy="226.0" r="3"/><circle cx="218.9" cy="228.0" r="3"/><circle cx="222.3" cy="226.0" r="3"/><circle cx="209.2" cy="228.0" r="3"/><circle cx="221.9" cy="228.0" r="3"/><circle cx="223.0" cy="228.0" r="3"/><circle cx="213.9" cy="228.0" r="3"/><circle cx="207.3" cy="228.0" r="3"/><circle cx="219.0" cy="226.5" r="3"/><circle cx="208.4" cy="228.0" r="3"/><circle cx="139.8" cy="228.0" r="3"/><circle cx="221.3" cy="228.0" r="3"/><circle cx="217.2" cy="226.6" r="3"/><circle cx="210.8" cy="228.0" r="3"/><circle cx="223.5" cy="230.0" r="3"/><circle cx="211.9" cy="228.0" r="3"/><circle cx="223.5" cy="226.0" r="3"/><circle cx="219.9" cy="228.0" r="3"/><circle cx="220.9" cy="230.0" r="3"/><circle cx="216.4" cy="228.0" r="3"/><circle cx="216.5" cy="226.6" r="3"/><circle cx="219.5" cy="229.1" r="3"/><circle cx="222.2" cy="230.0" r="3"/><circle cx="127.0" cy="228.0" r="3"/><circle cx="219.4" cy="226.0" r="3"/><circle cx="217.5" cy="228.0" r="3"/><circle cx="224.4" cy="228.0" r="3"/><circle cx="215.4" cy="228.0" r="3"/><circle cx="224.4" cy="230.0" r="3"/><circle cx="215.3" cy="226.6" r="3"/><circle cx="212.9" cy="228.0" r="3"/><circle cx="221.4" cy="226.0" r="3"/><circle cx="224.7" cy="226.0" r="3"/><circle cx="225.3" cy="228.0" r="3"/></g>
<g fill="#f40b5b"><circle cx="227.6" cy="228.0" r="3"/></g>
<g fill="#4651e5"><circle cx="238.0" cy="236.1" r="3"/></g>
<g fill="#4850e4"><circle cx="239.1" cy="230.1" r="3"/><circle cx="239.5" cy="228.0" r="3"/></g>
<g fill="#d10a81"><circle cx="231.4" cy="228.0" r="3"/></g>
<g fill="#6041d7"><circle cx="238.0" cy="225.8" r="3"/></g>
<g fill="#5e42d7"><circle cx="238.1" cy="230.0" r="3"/></g>
<g fill="#1d6df7"><circle cx="238.3" cy="212.6" r="3"/></g>
<g fill="#325fef"><circle cx="237.9" cy="214.8" r="3"/></g>
<g fill="#3c58eb"><circle cx="237.9" cy="217.0" r="3"/></g>
<g fill="#7a2cc5"><circle cx="235.9" cy="221.4" r="3"/><circle cx="236.8" cy="226.0" r="3"/></g>
<g fill="#5349de"><circle cx="237.3" cy="236.7" r="3"/></g>
<g fill="#881fb8"><circle cx="235.8" cy="230.1" r="3"/><circle cx="234.6" cy="219.3" r="3"/><circle cx="234.4" cy="237.3" r="3"/></g>
<g fill="#b10b97"><circle cx="232.3" cy="221.5" r="3"/><circle cx="233.5" cy="228.0" r="3"/></g>
<g fill="#2766f3"><circle cx="240.4" cy="230.2" r="3"/></g>
<g fill="#1871f9"><circle cx="240.6" cy="223.8" r="3"/></g>
<g fill="#663cd2"><circle cx="235.6" cy="214.7" r="3"/></g>
<g fill="#e50a6e"><circle cx="229.4" cy="225.9" r="3"/><circle cx="229.0" cy="223.8" r="3"/></g>
<g fill="#8720b9"><circle cx="233.9" cy="240.6" r="3"/><circle cx="236.2" cy="228.0" r="3"/></g>
<g fill="#395aec"><circle cx="238.2" cy="238.1" r="3"/></g>
<g fill="#c20a8b"><circle cx="231.5" cy="232.8" r="3"/></g>
<g fill="#2965f2"><circle cx="238.4" cy="240.2" r="3"/></g>
<g fill="#9710a9"><circle cx="233.9" cy="234.3" r="3"/><circle cx="233.4" cy="219.2" r="3"/></g>
<g fill="#aa0c9b"><circle cx="233.5" cy="225.8" r="3"/></g>
<g fill="#643dd3"><circle cx="237.4" cy="232.4" r="3"/></g>
<g fill="#d90a7b"><circle cx="230.1" cy="231.7" r="3"/><circle cx="230.1" cy="223.7" r="3"/></g>
<g fill="#4055e9"><circle cx="238.6" cy="221.4" r="3"/></g>
<g fill="#9215ae"><circle cx="235.0" cy="230.3" r="3"/></g>
<g fill="#9314ad"><circle cx="234.5" cy="232.7" r="3"/><circle cx="233.7" cy="236.4" r="3"/></g>
<g fill="#345eee"><circle cx="239.5" cy="223.8" r="3"/></g>
<g fill="#c00a8c"><circle cx="232.5" cy="228.0" r="3"/></g>
<g fill="#2e62f0"><circle cx="238.9" cy="219.6" r="3"/></g>
<g fill="#8a1db6"><circle cx="234.7" cy="235.0" r="3"/></g>
<g fill="#d40a7f"><circle cx="230.1" cy="233.5" r="3"/></g>
<g fill="#7034cc"><circle cx="236.0" cy="219.1" r="3"/><circle cx="236.9" cy="224.1" r="3"/></g>
<g fill="#6b38cf"><circle cx="236.8" cy="222.1" r="3"/></g>
<g fill="#ad0c9a"><circle cx="232.4" cy="235.1" r="3"/></g>
<g fill="#b70a93"><circle cx="232.7" cy="230.4" r="3"/></g>
<g fill="#4353e7"><circle cx="239.3" cy="225.9" r="3"/></g>
<g fill="#ca0a86"><circle cx="231.4" cy="225.5" r="3"/></g>
<g fill="#6c37ce"><circle cx="237.9" cy="228.0" r="3"/></g>
<g fill="#4751e5"><circle cx="237.0" cy="241.1" r="3"/></g>
<g fill="#f80c54"><circle cx="226.6" cy="228.0" r="3"/></g>
<g fill="#4e4ce1"><circle cx="238.1" cy="234.1" r="3"/></g>
<g fill="#7530c9"><circle cx="237.4" cy="228.0" r="3"/></g>
<g fill="#1e6df7"><circle cx="239.6" cy="236.3" r="3"/></g>
<g fill="#5548dd"><circle cx="238.1" cy="223.6" r="3"/></g>
<g fill="#1771f9"><circle cx="238.3" cy="244.2" r="3"/></g>
<g fill="#cc0a84"><circle cx="231.2" cy="230.4" r="3"/></g>
<g fill="#a20da1"><circle cx="234.4" cy="228.0" r="3"/></g>
<g fill="#7232ca"><circle cx="237.1" cy="230.2" r="3"/></g>
<g fill="#9017b0"><circle cx="233.6" cy="238.5" r="3"/></g>
<g fill="#2667f3"><circle cx="238.1" cy="242.2" r="3"/></g>
<g fill="#2c63f1"><circle cx="240.6" cy="228.0" r="3"/></g>
<g fill="#2568f4"><circle cx="239.7" cy="234.2" r="3"/></g>
<g fill="#1a70f8"><circle cx="239.0" cy="240.4" r="3"/><circle cx="238.0" cy="210.4" r="3"/><circle cx="237.9" cy="246.2" r="3"/></g>
<g fill="#dc0a78"><circle cx="229.4" cy="221.6" r="3"/></g>
<g fill="#f70c55"><circle cx="226.4" cy="230.0" r="3"/></g>
<g fill="#9a0fa7"><circle cx="233.6" cy="221.4" r="3"/></g>
<g fill="#e40a6f"><circle cx="229.9" cy="228.0" r="3"/></g>
<g fill="#c60a89"><circle cx="231.2" cy="222.9" r="3"/></g>
<g fill="#a50d9f"><circle cx="233.8" cy="230.1" r="3"/></g>
<g fill="#8e19b2"><circle cx="233.6" cy="217.0" r="3"/></g>
<g fill="#db0a79"><circle cx="230.3" cy="229.8" r="3"/></g>
<g fill="#ef0a62"><circle cx="228.7" cy="228.0" r="3"/></g>
<g fill="#2b64f2"><circle cx="239.5" cy="221.7" r="3"/></g>
<g fill="#4a4fe3"><circle cx="236.8" cy="214.3" r="3"/></g>
<g fill="#1e6df6"><circle cx="239.2" cy="238.3" r="3"/></g>
<g fill="#9d0ea4"><circle cx="233.8" cy="223.6" r="3"/></g>
<g fill="#d20a81"><circle cx="230.2" cy="221.6" r="3"/></g>
<g fill="#7e29c2"><circle cx="236.2" cy="232.2" r="3"/></g>
<g fill="#4c4de2"><circle cx="238.5" cy="232.1" r="3"/></g>
<g fill="#f00a60"><circle cx="228.0" cy="225.8" r="3"/><circle cx="228.0" cy="230.2" r="3"/></g>
<g fill="#663cd3"><circle cx="236.7" cy="220.2" r="3"/></g>
<g fill="#f60b56"><circle cx="226.5" cy="226.0" r="3"/></g>
<g fill="#3e57ea"><circle cx="239.1" cy="232.1" r="3"/></g>
<g fill="#1a6ff8"><circle cx="240.5" cy="232.3" r="3"/></g>
<g fill="#bd0a8e"><circle cx="232.3" cy="225.8" r="3"/></g>
<g fill="#8324bd"><circle cx="236.2" cy="225.8" r="3"/></g>
<g fill="#7530c8"><circle cx="235.8" cy="236.4" r="3"/></g>
<g fill="#b80a92"><circle cx="232.3" cy="223.7" r="3"/></g>
<g fill="#9116af"><circle cx="235.1" cy="225.8" r="3"/></g>
<g fill="#514adf"><circle cx="237.0" cy="238.9" r="3"/></g>
<g fill="#af0c98"><circle cx="232.7" cy="232.7" r="3"/></g>
<g fill="#8423bc"><circle cx="235.7" cy="223.6" r="3"/></g>
<g fill="#762fc8"><circle cx="236.2" cy="234.3" r="3"/></g>
<g fill="#683ad1"><circle cx="235.9" cy="216.9" r="3"/><circle cx="236.0" cy="238.6" r="3"/></g>
<g fill="#5d42d8"><circle cx="237.3" cy="234.5" r="3"/></g>
<g fill="#1c6ef7"><circle cx="240.8" cy="225.9" r="3"/></g>
<g fill="#693ad0"><circle cx="235.6" cy="240.7" r="3"/></g>
<g fill="#891eb7"><circle cx="233.6" cy="214.8" r="3"/></g>
<g fill="#5845db"><circle cx="236.9" cy="218.2" r="3"/></g>
<g fill="#a30da0"><circle cx="233.5" cy="232.2" r="3"/></g>
<g fill="#f90c51"><circle cx="225.8" cy="230.0" r="3"/></g>
<line x1="103" x2="643.5" y1="285" y2="285" stroke="#000" stroke-width="1.6"/>
<line x1="162.3" x2="162.3" y1="285" y2="291" stroke="#000" stroke-width="1.2"/>
<text x="162.3" y="307.5" font-size="16.6" text-anchor="middle" font-family="DejaVu Sans, Liberation Sans, sans-serif" stroke="#000" stroke-width="0.22" fill="#000" >−0.25</text>
<line x1="236.5" x2="236.5" y1="285" y2="291" stroke="#000" stroke-width="1.2"/>
<text x="236.5" y="307.5" font-size="16.6" text-anchor="middle" font-family="DejaVu Sans, Liberation Sans, sans-serif" stroke="#000" stroke-width="0.22" fill="#000" >0.00</text>
<line x1="310.70000000000005" x2="310.70000000000005" y1="285" y2="291" stroke="#000" stroke-width="1.2"/>
<text x="310.70000000000005" y="307.5" font-size="16.6" text-anchor="middle" font-family="DejaVu Sans, Liberation Sans, sans-serif" stroke="#000" stroke-width="0.22" fill="#000" >0.25</text>
<line x1="384.90000000000003" x2="384.90000000000003" y1="285" y2="291" stroke="#000" stroke-width="1.2"/>
<text x="384.90000000000003" y="307.5" font-size="16.6" text-anchor="middle" font-family="DejaVu Sans, Liberation Sans, sans-serif" stroke="#000" stroke-width="0.22" fill="#000" >0.50</text>
<line x1="459.1" x2="459.1" y1="285" y2="291" stroke="#000" stroke-width="1.2"/>
<text x="459.1" y="307.5" font-size="16.6" text-anchor="middle" font-family="DejaVu Sans, Liberation Sans, sans-serif" stroke="#000" stroke-width="0.22" fill="#000" >0.75</text>
<line x1="533.3" x2="533.3" y1="285" y2="291" stroke="#000" stroke-width="1.2"/>
<text x="533.3" y="307.5" font-size="16.6" text-anchor="middle" font-family="DejaVu Sans, Liberation Sans, sans-serif" stroke="#000" stroke-width="0.22" fill="#000" >1.00</text>
<line x1="607.5" x2="607.5" y1="285" y2="291" stroke="#000" stroke-width="1.2"/>
<text x="607.5" y="307.5" font-size="16.6" text-anchor="middle" font-family="DejaVu Sans, Liberation Sans, sans-serif" stroke="#000" stroke-width="0.22" fill="#000" >1.25</text>
<rect x="676.6" y="58" width="2.4" height="227" fill="url(#cb)"/>
<text x="684.2" y="65" font-size="16.4" text-anchor="start" font-family="DejaVu Sans, Liberation Sans, sans-serif" stroke="#000" stroke-width="0.22" fill="#000" >High</text>
<text x="684.2" y="291.5" font-size="16.4" text-anchor="start" font-family="DejaVu Sans, Liberation Sans, sans-serif" stroke="#000" stroke-width="0.22" fill="#000" >Low</text>
<text transform="translate(735.3,171.5) rotate(-90)" font-size="18.4" text-anchor="middle" font-family="DejaVu Sans, Liberation Sans, sans-serif" stroke="#000" stroke-width="0.22">Feature value</text>
<text transform="translate(782.4,30.9) scale(0.94,1)" font-size="28.8" font-weight="bold" stroke="#000" stroke-width="0.5" font-family="Liberation Sans, sans-serif" fill="#000">B</text>
<rect x="852" y="95.1" width="643" height="39.8" fill="#1573fa"/>
<text x="840.8" y="122.6" font-size="19.7" text-anchor="end" font-family="DejaVu Sans, Liberation Sans, sans-serif" stroke="#000" stroke-width="0.22" fill="#000" >IgA</text>
<rect x="852" y="151.6" width="383" height="39.8" fill="#1573fa"/>
<text x="840.8" y="179.1" font-size="19.7" text-anchor="end" font-family="DejaVu Sans, Liberation Sans, sans-serif" stroke="#000" stroke-width="0.22" fill="#000" >IgM</text>
<rect x="852" y="208.1" width="62" height="39.8" fill="#1573fa"/>
<text x="840.8" y="235.6" font-size="19.7" text-anchor="end" font-family="DejaVu Sans, Liberation Sans, sans-serif" stroke="#000" stroke-width="0.22" fill="#000" >IgG</text>
<line x1="852" x2="852" y1="58" y2="285" stroke="#4a4a4a" stroke-width="0.9"/>
<line x1="851.5" x2="1527.5" y1="285" y2="285" stroke="#000" stroke-width="1.6"/>
<line x1="852.0" x2="852.0" y1="285" y2="291" stroke="#000" stroke-width="1.2"/>
<text x="852.0" y="307.5" font-size="16.6" text-anchor="middle" font-family="DejaVu Sans, Liberation Sans, sans-serif" stroke="#000" stroke-width="0.22" fill="#000" >0.000</text>
<line x1="944.86" x2="944.86" y1="285" y2="291" stroke="#000" stroke-width="1.2"/>
<text x="944.86" y="307.5" font-size="16.6" text-anchor="middle" font-family="DejaVu Sans, Liberation Sans, sans-serif" stroke="#000" stroke-width="0.22" fill="#000" >0.025</text>
<line x1="1037.72" x2="1037.72" y1="285" y2="291" stroke="#000" stroke-width="1.2"/>
<text x="1037.72" y="307.5" font-size="16.6" text-anchor="middle" font-family="DejaVu Sans, Liberation Sans, sans-serif" stroke="#000" stroke-width="0.22" fill="#000" >0.050</text>
<line x1="1130.58" x2="1130.58" y1="285" y2="291" stroke="#000" stroke-width="1.2"/>
<text x="1130.58" y="307.5" font-size="16.6" text-anchor="middle" font-family="DejaVu Sans, Liberation Sans, sans-serif" stroke="#000" stroke-width="0.22" fill="#000" >0.075</text>
<line x1="1223.44" x2="1223.44" y1="285" y2="291" stroke="#000" stroke-width="1.2"/>
<text x="1223.44" y="307.5" font-size="16.6" text-anchor="middle" font-family="DejaVu Sans, Liberation Sans, sans-serif" stroke="#000" stroke-width="0.22" fill="#000" >0.100</text>
<line x1="1316.3" x2="1316.3" y1="285" y2="291" stroke="#000" stroke-width="1.2"/>
<text x="1316.3" y="307.5" font-size="16.6" text-anchor="middle" font-family="DejaVu Sans, Liberation Sans, sans-serif" stroke="#000" stroke-width="0.22" fill="#000" >0.125</text>
<line x1="1409.1599999999999" x2="1409.1599999999999" y1="285" y2="291" stroke="#000" stroke-width="1.2"/>
<text x="1409.1599999999999" y="307.5" font-size="16.6" text-anchor="middle" font-family="DejaVu Sans, Liberation Sans, sans-serif" stroke="#000" stroke-width="0.22" fill="#000" >0.150</text>
<line x1="1502.02" x2="1502.02" y1="285" y2="291" stroke="#000" stroke-width="1.2"/>
<text x="1502.02" y="307.5" font-size="16.6" text-anchor="middle" font-family="DejaVu Sans, Liberation Sans, sans-serif" stroke="#000" stroke-width="0.22" fill="#000" >0.175</text>
<text transform="translate(9.5,384.6) scale(0.94,1)" font-size="28.8" font-weight="bold" stroke="#000" stroke-width="0.5" font-family="Liberation Sans, sans-serif" fill="#000">C</text>
<text x="372.7" y="402.7" font-size="18.1" text-anchor="middle" font-family="DejaVu Sans, Liberation Sans, sans-serif" stroke="#000" stroke-width="0.22" fill="#000" >HHC x HEC</text>
<line x1="98" x2="644.5" y1="468.5" y2="468.5" stroke="#dadada" stroke-width="1" stroke-dasharray="1.4,3.1"/>
<line x1="98" x2="644.5" y1="525.0" y2="525.0" stroke="#dadada" stroke-width="1" stroke-dasharray="1.4,3.1"/>
<line x1="98" x2="644.5" y1="581.5" y2="581.5" stroke="#dadada" stroke-width="1" stroke-dasharray="1.4,3.1"/>
<text x="66.9" y="476.1" font-size="19.7" text-anchor="end" font-family="DejaVu Sans, Liberation Sans, sans-serif" stroke="#000" stroke-width="0.22" fill="#000" >IgA</text>
<text x="66.9" y="532.6" font-size="19.7" text-anchor="end" font-family="DejaVu Sans, Liberation Sans, sans-serif" stroke="#000" stroke-width="0.22" fill="#000" >IgM</text>
<text x="66.9" y="589.1" font-size="19.7" text-anchor="end" font-family="DejaVu Sans, Liberation Sans, sans-serif" stroke="#000" stroke-width="0.22" fill="#000" >IgG</text>
<line x1="253" x2="253" y1="411.5" y2="638.3" stroke="#7f7f7f" stroke-width="2.2"/>
<g fill="#1573fa"><circle cx="178.4" cy="470.7" r="3"/><circle cx="183.7" cy="466.5" r="3"/><circle cx="155.9" cy="466.6" r="3"/><circle cx="187.6" cy="470.5" r="3"/><circle cx="168.9" cy="466.3" r="3"/><circle cx="127.6" cy="471.0" r="3"/><circle cx="167.2" cy="464.1" r="3"/><circle cx="178.5" cy="475.0" r="3"/><circle cx="163.1" cy="470.0" r="3"/><circle cx="156.0" cy="468.5" r="3"/><circle cx="182.8" cy="470.6" r="3"/><circle cx="177.9" cy="466.2" r="3"/><circle cx="139.7" cy="468.5" r="3"/><circle cx="199.7" cy="472.5" r="3"/><circle cx="180.2" cy="463.9" r="3"/><circle cx="183.9" cy="468.5" r="3"/><circle cx="182.6" cy="476.8" r="3"/><circle cx="182.9" cy="464.5" r="3"/><circle cx="176.2" cy="475.0" r="3"/><circle cx="171.9" cy="472.5" r="3"/><circle cx="175.8" cy="463.9" r="3"/><circle cx="164.8" cy="468.5" r="3"/><circle cx="127.6" cy="466.0" r="3"/><circle cx="127.6" cy="468.5" r="3"/><circle cx="151.8" cy="470.0" r="3"/><circle cx="147.4" cy="468.5" r="3"/><circle cx="199.6" cy="466.3" r="3"/><circle cx="167.8" cy="472.5" r="3"/><circle cx="175.5" cy="472.8" r="3"/><circle cx="188.2" cy="472.5" r="3"/><circle cx="194.4" cy="468.5" r="3"/><circle cx="184.1" cy="450.4" r="3"/><circle cx="184.2" cy="483.0" r="3"/><circle cx="191.9" cy="472.5" r="3"/><circle cx="182.5" cy="474.7" r="3"/><circle cx="170.2" cy="468.5" r="3"/><circle cx="199.1" cy="464.1" r="3"/><circle cx="183.1" cy="458.4" r="3"/><circle cx="175.0" cy="470.7" r="3"/><circle cx="182.2" cy="480.9" r="3"/><circle cx="184.3" cy="454.4" r="3"/><circle cx="143.3" cy="468.5" r="3"/><circle cx="172.4" cy="470.5" r="3"/><circle cx="193.6" cy="472.5" r="3"/><circle cx="199.6" cy="470.5" r="3"/><circle cx="183.2" cy="472.6" r="3"/><circle cx="178.5" cy="472.8" r="3"/><circle cx="170.2" cy="465.6" r="3"/><circle cx="190.7" cy="465.8" r="3"/><circle cx="159.7" cy="468.5" r="3"/><circle cx="160.5" cy="470.0" r="3"/><circle cx="166.7" cy="470.5" r="3"/><circle cx="183.9" cy="460.4" r="3"/><circle cx="176.3" cy="461.6" r="3"/><circle cx="183.2" cy="478.8" r="3"/><circle cx="194.9" cy="466.2" r="3"/><circle cx="152.9" cy="466.6" r="3"/><circle cx="175.6" cy="468.5" r="3"/><circle cx="191.9" cy="468.5" r="3"/><circle cx="166.4" cy="468.5" r="3"/><circle cx="187.0" cy="466.3" r="3"/><circle cx="192.1" cy="470.5" r="3"/><circle cx="193.8" cy="470.5" r="3"/><circle cx="183.5" cy="456.4" r="3"/><circle cx="187.4" cy="464.1" r="3"/><circle cx="182.3" cy="452.4" r="3"/><circle cx="151.4" cy="468.5" r="3"/><circle cx="188.2" cy="468.5" r="3"/><circle cx="162.5" cy="466.6" r="3"/><circle cx="156.0" cy="470.0" r="3"/><circle cx="160.4" cy="466.6" r="3"/><circle cx="176.7" cy="466.2" r="3"/><circle cx="178.6" cy="468.5" r="3"/><circle cx="183.5" cy="462.5" r="3"/><circle cx="197.9" cy="468.5" r="3"/></g>
<g fill="#1471f9"><circle cx="202.8" cy="466.0" r="3"/><circle cx="203.0" cy="473.1" r="3"/><circle cx="203.5" cy="470.8" r="3"/><circle cx="202.4" cy="463.6" r="3"/></g>
<g fill="#9f0ea3"><circle cx="306.8" cy="468.5" r="3"/><circle cx="307.7" cy="466.5" r="3"/></g>
<g fill="#8e19b2"><circle cx="283.3" cy="468.5" r="3"/></g>
<g fill="#5647dc"><circle cx="238.8" cy="461.9" r="3"/><circle cx="238.5" cy="464.1" r="3"/></g>
<g fill="#365aec"><circle cx="227.4" cy="466.4" r="3"/></g>
<g fill="#6040d6"><circle cx="242.4" cy="468.5" r="3"/></g>
<g fill="#8126bf"><circle cx="264.5" cy="472.5" r="3"/><circle cx="263.8" cy="468.5" r="3"/></g>
<g fill="#2161f0"><circle cx="222.4" cy="468.5" r="3"/></g>
<g fill="#ea0a68"><circle cx="390.9" cy="468.5" r="3"/><circle cx="390.9" cy="466.0" r="3"/></g>
<g fill="#6f34cc"><circle cx="250.7" cy="464.3" r="3"/></g>
<g fill="#fa0c50"><circle cx="424.8" cy="468.5" r="3"/><circle cx="470.8" cy="467.3" r="3"/><circle cx="523.5" cy="468.5" r="3"/><circle cx="468.6" cy="468.5" r="3"/><circle cx="424.9" cy="467.3" r="3"/><circle cx="473.0" cy="468.5" r="3"/><circle cx="440.6" cy="466.3" r="3"/><circle cx="429.2" cy="468.5" r="3"/><circle cx="445.1" cy="469.7" r="3"/><circle cx="443.3" cy="468.5" r="3"/><circle cx="502.1" cy="468.5" r="3"/><circle cx="448.4" cy="468.5" r="3"/><circle cx="496.6" cy="468.5" r="3"/><circle cx="443.9" cy="466.3" r="3"/><circle cx="440.4" cy="468.5" r="3"/><circle cx="449.5" cy="469.7" r="3"/><circle cx="476.4" cy="467.3" r="3"/><circle cx="474.3" cy="468.5" r="3"/><circle cx="447.9" cy="466.3" r="3"/><circle cx="439.7" cy="469.7" r="3"/><circle cx="468.1" cy="467.3" r="3"/></g>
<g fill="#9512ab"><circle cx="293.0" cy="464.7" r="3"/><circle cx="292.9" cy="466.6" r="3"/></g>
<g fill="#bd0a8e"><circle cx="346.0" cy="468.5" r="3"/></g>
<g fill="#116cf6"><circle cx="210.7" cy="472.5" r="3"/><circle cx="210.5" cy="466.0" r="3"/><circle cx="210.9" cy="468.5" r="3"/></g>
<g fill="#a70d9d"><circle cx="318.7" cy="466.8" r="3"/></g>
<g fill="#4c4ee2"><circle cx="234.8" cy="471.3" r="3"/></g>
<g fill="#f30b5c"><circle cx="406.4" cy="466.8" r="3"/><circle cx="406.7" cy="470.2" r="3"/></g>
<g fill="#6d36ce"><circle cx="249.3" cy="474.4" r="3"/><circle cx="249.5" cy="470.5" r="3"/></g>
<g fill="#bf0a8d"><circle cx="347.8" cy="472.5" r="3"/><circle cx="347.2" cy="464.5" r="3"/></g>
<g fill="#345bec"><circle cx="227.1" cy="472.4" r="3"/></g>
<g fill="#5c43d9"><circle cx="240.9" cy="464.1" r="3"/><circle cx="240.9" cy="466.3" r="3"/></g>
<g fill="#792dc5"><circle cx="256.1" cy="472.5" r="3"/></g>
<g fill="#6d37ce"><circle cx="249.3" cy="468.5" r="3"/></g>
<g fill="#c40a8a"><circle cx="351.9" cy="470.5" r="3"/></g>
<g fill="#8a1db6"><circle cx="277.8" cy="468.5" r="3"/></g>
<g fill="#5f41d7"><circle cx="242.0" cy="461.9" r="3"/></g>
<g fill="#b70a92"><circle cx="339.5" cy="468.5" r="3"/></g>
<g fill="#0f67f3"><circle cx="217.7" cy="468.5" r="3"/><circle cx="217.5" cy="466.3" r="3"/><circle cx="217.5" cy="472.5" r="3"/></g>
<g fill="#126ef7"><circle cx="207.6" cy="464.2" r="3"/><circle cx="207.7" cy="460.0" r="3"/><circle cx="207.6" cy="457.9" r="3"/></g>
<g fill="#2d5dee"><circle cx="225.3" cy="474.4" r="3"/><circle cx="225.2" cy="464.3" r="3"/></g>
<g fill="#ae0c99"><circle cx="327.1" cy="466.8" r="3"/></g>
<g fill="#8027c0"><circle cx="261.7" cy="470.5" r="3"/><circle cx="262.4" cy="466.6" r="3"/><circle cx="262.2" cy="464.7" r="3"/></g>
<g fill="#5746dc"><circle cx="239.0" cy="468.5" r="3"/><circle cx="239.0" cy="472.8" r="3"/></g>
<g fill="#9215ae"><circle cx="288.9" cy="468.5" r="3"/><circle cx="288.7" cy="466.6" r="3"/><circle cx="288.5" cy="470.5" r="3"/></g>
<g fill="#673bd2"><circle cx="246.2" cy="464.3" r="3"/></g>
<g fill="#d90a7b"><circle cx="371.1" cy="467.3" r="3"/></g>
<g fill="#8c1bb4"><circle cx="280.9" cy="466.6" r="3"/><circle cx="279.8" cy="468.5" r="3"/></g>
<g fill="#136ff7"><circle cx="206.5" cy="468.5" r="3"/><circle cx="206.7" cy="474.4" r="3"/></g>
<g fill="#9116af"><circle cx="288.4" cy="464.7" r="3"/><circle cx="288.2" cy="472.5" r="3"/></g>
<g fill="#3b58eb"><circle cx="228.8" cy="468.5" r="3"/><circle cx="228.7" cy="471.3" r="3"/></g>
<g fill="#8f18b1"><circle cx="284.9" cy="470.0" r="3"/><circle cx="285.1" cy="466.6" r="3"/></g>
<g fill="#7332ca"><circle cx="252.8" cy="470.3" r="3"/></g>
<g fill="#7f28c1"><circle cx="260.9" cy="468.5" r="3"/><circle cx="261.6" cy="472.5" r="3"/></g>
<g fill="#116af5"><circle cx="213.3" cy="470.5" r="3"/><circle cx="213.2" cy="459.7" r="3"/></g>
<g fill="#8720b9"><circle cx="273.1" cy="468.5" r="3"/><circle cx="272.6" cy="466.6" r="3"/></g>
<g fill="#891eb7"><circle cx="276.4" cy="466.6" r="3"/></g>
<g fill="#7d2ac3"><circle cx="258.1" cy="466.6" r="3"/><circle cx="257.9" cy="464.7" r="3"/></g>
<g fill="#ac0c9a"><circle cx="324.5" cy="468.5" r="3"/><circle cx="324.5" cy="466.8" r="3"/></g>
<g fill="#126df6"><circle cx="209.5" cy="463.5" r="3"/></g>
<g fill="#653dd3"><circle cx="245.0" cy="472.0" r="3"/><circle cx="245.1" cy="466.4" r="3"/></g>
<g fill="#7c2bc4"><circle cx="257.3" cy="470.5" r="3"/><circle cx="257.5" cy="468.5" r="3"/></g>
<g fill="#9413ac"><circle cx="292.5" cy="470.5" r="3"/><circle cx="292.4" cy="468.5" r="3"/><circle cx="292.2" cy="472.5" r="3"/></g>
<g fill="#106af4"><circle cx="214.2" cy="461.9" r="3"/></g>
<g fill="#be0a8e"><circle cx="346.7" cy="466.5" r="3"/><circle cx="346.3" cy="470.5" r="3"/></g>
<g fill="#2f5ced"><circle cx="225.7" cy="462.2" r="3"/></g>
<g fill="#7232ca"><circle cx="252.2" cy="468.5" r="3"/></g>
<g fill="#f80c53"><circle cx="421.0" cy="468.5" r="3"/><circle cx="420.8" cy="467.3" r="3"/></g>
<g fill="#8423bc"><circle cx="268.4" cy="468.5" r="3"/><circle cx="267.9" cy="466.6" r="3"/></g>
<g fill="#106af5"><circle cx="213.5" cy="474.4" r="3"/><circle cx="213.9" cy="466.3" r="3"/><circle cx="213.6" cy="468.5" r="3"/></g>
<g fill="#a00ea2"><circle cx="308.9" cy="470.2" r="3"/><circle cx="309.2" cy="464.5" r="3"/></g>
<g fill="#5349de"><circle cx="237.6" cy="466.3" r="3"/></g>
<g fill="#7630c8"><circle cx="254.1" cy="472.1" r="3"/></g>
<g fill="#b20b96"><circle cx="332.1" cy="466.8" r="3"/></g>
<g fill="#1f62f0"><circle cx="222.0" cy="470.5" r="3"/></g>
<g fill="#af0c98"><circle cx="328.6" cy="468.5" r="3"/></g>
<g fill="#1565f2"><circle cx="219.4" cy="470.5" r="3"/></g>
<g fill="#5448dd"><circle cx="238.1" cy="459.7" r="3"/></g>
<g fill="#524adf"><circle cx="237.0" cy="470.7" r="3"/></g>
<g fill="#683ad1"><circle cx="246.9" cy="468.5" r="3"/></g>
<g fill="#8d1ab3"><circle cx="281.6" cy="470.0" r="3"/></g>
<g fill="#136ff8"><circle cx="206.2" cy="476.4" r="3"/><circle cx="205.5" cy="472.4" r="3"/><circle cx="205.7" cy="470.5" r="3"/><circle cx="205.9" cy="466.4" r="3"/></g>
<g fill="#8225be"><circle cx="265.8" cy="470.5" r="3"/><circle cx="265.8" cy="464.7" r="3"/><circle cx="265.0" cy="462.9" r="3"/></g>
<g fill="#1166f3"><circle cx="218.4" cy="464.1" r="3"/></g>
<g fill="#504be0"><circle cx="236.4" cy="475.0" r="3"/></g>
<g fill="#1c63f1"><circle cx="221.2" cy="464.1" r="3"/></g>
<g fill="#136ef7"><circle cx="207.1" cy="462.1" r="3"/></g>
<g fill="#c30a8b"><circle cx="350.6" cy="464.5" r="3"/><circle cx="350.8" cy="468.5" r="3"/></g>
<g fill="#db0a78"><circle cx="373.9" cy="468.5" r="3"/></g>
<g fill="#5e42d8"><circle cx="241.7" cy="473.4" r="3"/></g>
<g fill="#1069f4"><circle cx="215.7" cy="464.1" r="3"/><circle cx="214.9" cy="472.4" r="3"/></g>
<g fill="#c10a8b"><circle cx="349.6" cy="466.5" r="3"/></g>
<g fill="#6c37ce"><circle cx="249.1" cy="466.4" r="3"/><circle cx="249.1" cy="472.4" r="3"/></g>
<g fill="#2360ef"><circle cx="222.9" cy="472.5" r="3"/></g>
<g fill="#663bd2"><circle cx="245.8" cy="470.3" r="3"/></g>
<g fill="#126cf6"><circle cx="210.3" cy="470.5" r="3"/></g>
<g fill="#3d57eb"><circle cx="229.3" cy="466.0" r="3"/></g>
<g fill="#1470f9"><circle cx="203.8" cy="468.5" r="3"/></g>
<g fill="#663cd3"><circle cx="245.6" cy="462.2" r="3"/></g>
<g fill="#6e35cd"><circle cx="250.0" cy="462.2" r="3"/></g>
<g fill="#7233ca"><circle cx="252.0" cy="466.3" r="3"/></g>
<g fill="#f20b5e"><circle cx="404.6" cy="468.5" r="3"/></g>
<g fill="#9a0fa7"><circle cx="300.0" cy="468.5" r="3"/></g>
<g fill="#5d42d8"><circle cx="241.2" cy="471.0" r="3"/></g>
<g fill="#673bd1"><circle cx="246.5" cy="473.8" r="3"/></g>
<g fill="#9611aa"><circle cx="295.4" cy="468.5" r="3"/></g>
<g fill="#a80d9d"><circle cx="318.9" cy="468.5" r="3"/></g>
<g fill="#4651e5"><circle cx="232.9" cy="466.0" r="3"/></g>
<g fill="#c20a8b"><circle cx="349.9" cy="472.5" r="3"/></g>
<g fill="#4850e4"><circle cx="233.3" cy="468.5" r="3"/></g>
<g fill="#b10b96"><circle cx="331.7" cy="468.5" r="3"/></g>
<g fill="#990fa8"><circle cx="298.8" cy="468.5" r="3"/></g>
<g fill="#8324bd"><circle cx="266.2" cy="466.6" r="3"/></g>
<g fill="#1b63f1"><circle cx="221.0" cy="466.3" r="3"/></g>
<g fill="#e10a72"><circle cx="380.1" cy="468.5" r="3"/></g>
<g fill="#335bed"><circle cx="226.7" cy="470.5" r="3"/></g>
<g fill="#5d43d8"><circle cx="241.1" cy="459.7" r="3"/></g>
<g fill="#2b5eee"><circle cx="224.8" cy="468.5" r="3"/></g>
<g fill="#d80a7c"><circle cx="370.0" cy="468.5" r="3"/></g>
<g fill="#762fc8"><circle cx="254.2" cy="464.2" r="3"/></g>
<g fill="#ef0a63"><circle cx="345.7" cy="525.0" r="3"/></g>
<g fill="#116af5"><circle cx="229.3" cy="529.3" r="3"/><circle cx="229.5" cy="521.0" r="3"/><circle cx="229.4" cy="531.5" r="3"/><circle cx="229.0" cy="517.0" r="3"/><circle cx="228.8" cy="523.0" r="3"/><circle cx="229.2" cy="527.2" r="3"/></g>
<g fill="#ae0c98"><circle cx="305.5" cy="528.9" r="3"/></g>
<g fill="#1573fa"><circle cx="196.3" cy="527.6" r="3"/><circle cx="197.1" cy="522.4" r="3"/><circle cx="216.1" cy="533.8" r="3"/><circle cx="216.2" cy="531.6" r="3"/><circle cx="214.1" cy="539.7" r="3"/><circle cx="198.7" cy="533.1" r="3"/><circle cx="207.8" cy="533.1" r="3"/><circle cx="208.1" cy="518.9" r="3"/><circle cx="203.2" cy="534.9" r="3"/><circle cx="205.3" cy="515.2" r="3"/><circle cx="214.1" cy="535.5" r="3"/><circle cx="207.2" cy="541.2" r="3"/><circle cx="213.9" cy="512.9" r="3"/><circle cx="203.1" cy="517.1" r="3"/><circle cx="204.3" cy="538.9" r="3"/><circle cx="212.4" cy="506.9" r="3"/><circle cx="204.8" cy="536.9" r="3"/><circle cx="207.9" cy="537.2" r="3"/><circle cx="209.2" cy="516.9" r="3"/><circle cx="204.9" cy="532.9" r="3"/><circle cx="212.2" cy="514.9" r="3"/><circle cx="211.4" cy="508.9" r="3"/><circle cx="212.2" cy="529.2" r="3"/><circle cx="209.9" cy="506.7" r="3"/><circle cx="204.0" cy="521.1" r="3"/><circle cx="209.8" cy="508.8" r="3"/><circle cx="201.3" cy="519.9" r="3"/><circle cx="205.3" cy="525.0" r="3"/><circle cx="208.8" cy="510.8" r="3"/><circle cx="216.3" cy="516.4" r="3"/><circle cx="209.5" cy="523.0" r="3"/><circle cx="212.2" cy="521.0" r="3"/><circle cx="208.4" cy="527.0" r="3"/><circle cx="209.0" cy="531.1" r="3"/><circle cx="201.3" cy="535.1" r="3"/><circle cx="216.7" cy="518.5" r="3"/><circle cx="207.5" cy="525.0" r="3"/><circle cx="207.9" cy="535.1" r="3"/><circle cx="207.4" cy="539.2" r="3"/><circle cx="207.2" cy="529.1" r="3"/><circle cx="211.5" cy="519.0" r="3"/><circle cx="203.5" cy="519.1" r="3"/><circle cx="212.9" cy="510.9" r="3"/><circle cx="200.9" cy="527.0" r="3"/><circle cx="203.6" cy="523.0" r="3"/><circle cx="209.0" cy="543.3" r="3"/><circle cx="199.4" cy="525.0" r="3"/><circle cx="203.9" cy="509.2" r="3"/><circle cx="214.2" cy="525.0" r="3"/><circle cx="203.7" cy="513.2" r="3"/><circle cx="185.1" cy="525.0" r="3"/><circle cx="212.8" cy="531.3" r="3"/><circle cx="212.3" cy="523.0" r="3"/><circle cx="213.6" cy="537.6" r="3"/><circle cx="213.4" cy="527.1" r="3"/><circle cx="202.9" cy="527.0" r="3"/><circle cx="200.3" cy="529.1" r="3"/><circle cx="209.6" cy="512.8" r="3"/><circle cx="207.3" cy="520.9" r="3"/><circle cx="195.2" cy="525.0" r="3"/><circle cx="203.7" cy="511.2" r="3"/><circle cx="200.0" cy="522.4" r="3"/><circle cx="199.0" cy="531.1" r="3"/><circle cx="203.4" cy="530.9" r="3"/><circle cx="215.7" cy="538.3" r="3"/><circle cx="211.9" cy="533.4" r="3"/><circle cx="204.8" cy="529.0" r="3"/><circle cx="212.9" cy="516.9" r="3"/><circle cx="208.7" cy="514.9" r="3"/></g>
<g fill="#c10a8b"><circle cx="316.5" cy="520.5" r="3"/></g>
<g fill="#6939d0"><circle cx="265.1" cy="522.7" r="3"/><circle cx="265.0" cy="525.0" r="3"/></g>
<g fill="#5f41d7"><circle cx="259.9" cy="522.9" r="3"/></g>
<g fill="#9215ae"><circle cx="288.3" cy="522.7" r="3"/></g>
<g fill="#7133cb"><circle cx="268.9" cy="522.7" r="3"/></g>
<g fill="#b60a93"><circle cx="310.3" cy="522.1" r="3"/><circle cx="310.3" cy="525.0" r="3"/></g>
<g fill="#2f5ced"><circle cx="241.7" cy="531.4" r="3"/><circle cx="241.7" cy="525.0" r="3"/><circle cx="241.9" cy="529.3" r="3"/></g>
<g fill="#126df7"><circle cx="224.6" cy="525.0" r="3"/><circle cx="224.5" cy="539.2" r="3"/><circle cx="225.0" cy="515.0" r="3"/><circle cx="224.3" cy="521.0" r="3"/><circle cx="224.7" cy="531.1" r="3"/><circle cx="224.5" cy="535.1" r="3"/><circle cx="225.0" cy="511.0" r="3"/><circle cx="224.8" cy="533.1" r="3"/><circle cx="224.3" cy="517.0" r="3"/></g>
<g fill="#b50b94"><circle cx="309.6" cy="528.9" r="3"/></g>
<g fill="#126df6"><circle cx="225.3" cy="529.1" r="3"/><circle cx="225.0" cy="509.0" r="3"/><circle cx="225.7" cy="519.0" r="3"/><circle cx="225.6" cy="527.0" r="3"/><circle cx="225.6" cy="537.2" r="3"/><circle cx="225.3" cy="541.2" r="3"/></g>
<g fill="#1465f2"><circle cx="235.2" cy="513.2" r="3"/><circle cx="235.3" cy="523.0" r="3"/></g>
<g fill="#673bd2"><circle cx="263.9" cy="528.9" r="3"/><circle cx="264.1" cy="520.5" r="3"/></g>
<g fill="#1069f4"><circle cx="231.1" cy="519.0" r="3"/><circle cx="231.0" cy="515.0" r="3"/><circle cx="231.2" cy="535.8" r="3"/></g>
<g fill="#4c4de2"><circle cx="252.0" cy="527.3" r="3"/></g>
<g fill="#d80a7c"><circle cx="328.8" cy="525.0" r="3"/></g>
<g fill="#4850e4"><circle cx="250.3" cy="519.9" r="3"/><circle cx="250.1" cy="529.5" r="3"/></g>
<g fill="#136ff8"><circle cx="221.8" cy="531.1" r="3"/><circle cx="222.3" cy="527.0" r="3"/><circle cx="222.3" cy="517.0" r="3"/><circle cx="222.3" cy="535.1" r="3"/></g>
<g fill="#106af5"><circle cx="229.5" cy="533.6" r="3"/><circle cx="230.1" cy="513.0" r="3"/></g>
<g fill="#116bf5"><circle cx="228.6" cy="525.0" r="3"/><circle cx="228.7" cy="540.1" r="3"/><circle cx="228.5" cy="538.0" r="3"/></g>
<g fill="#1370f8"><circle cx="220.8" cy="515.0" r="3"/><circle cx="220.8" cy="525.0" r="3"/><circle cx="221.1" cy="529.1" r="3"/><circle cx="221.1" cy="533.1" r="3"/><circle cx="220.5" cy="508.9" r="3"/><circle cx="220.8" cy="537.2" r="3"/></g>
<g fill="#9c0ea5"><circle cx="294.7" cy="526.9" r="3"/></g>
<g fill="#1470f8"><circle cx="220.5" cy="512.9" r="3"/><circle cx="220.0" cy="521.0" r="3"/></g>
<g fill="#fa0c50"><circle cx="390.5" cy="525.0" r="3"/><circle cx="618.0" cy="525.0" r="3"/><circle cx="390.5" cy="522.5" r="3"/><circle cx="417.1" cy="525.0" r="3"/><circle cx="417.1" cy="522.5" r="3"/><circle cx="403.2" cy="525.0" r="3"/><circle cx="544.3" cy="525.0" r="3"/><circle cx="441.1" cy="525.0" r="3"/><circle cx="398.0" cy="525.0" r="3"/><circle cx="479.2" cy="525.0" r="3"/><circle cx="412.0" cy="525.0" r="3"/><circle cx="606.2" cy="525.0" r="3"/></g>
<g fill="#653dd3"><circle cx="262.9" cy="526.9" r="3"/></g>
<g fill="#4155e8"><circle cx="247.2" cy="516.5" r="3"/><circle cx="247.2" cy="525.0" r="3"/></g>
<g fill="#8522bb"><circle cx="279.9" cy="525.0" r="3"/><circle cx="280.2" cy="522.4" r="3"/></g>
<g fill="#136ff7"><circle cx="222.7" cy="519.0" r="3"/><circle cx="222.6" cy="539.2" r="3"/><circle cx="222.5" cy="523.0" r="3"/><circle cx="222.7" cy="510.9" r="3"/></g>
<g fill="#8720b9"><circle cx="281.6" cy="527.0" r="3"/></g>
<g fill="#ea0a68"><circle cx="340.4" cy="525.0" r="3"/></g>
<g fill="#eb0a67"><circle cx="341.1" cy="527.3" r="3"/></g>
<g fill="#a30da0"><circle cx="298.6" cy="525.0" r="3"/></g>
<g fill="#990fa7"><circle cx="292.5" cy="528.9" r="3"/></g>
<g fill="#365aec"><circle cx="243.5" cy="527.1" r="3"/></g>
<g fill="#4e4ce1"><circle cx="252.7" cy="525.0" r="3"/></g>
<g fill="#305ced"><circle cx="242.1" cy="522.9" r="3"/></g>
<g fill="#9d0ea5"><circle cx="294.9" cy="522.7" r="3"/></g>
<g fill="#c00a8c"><circle cx="316.0" cy="525.0" r="3"/></g>
<g fill="#1472f9"><circle cx="217.8" cy="527.2" r="3"/><circle cx="217.7" cy="514.2" r="3"/><circle cx="218.0" cy="520.7" r="3"/><circle cx="218.0" cy="512.0" r="3"/></g>
<g fill="#8027c0"><circle cx="276.6" cy="527.0" r="3"/><circle cx="277.1" cy="525.0" r="3"/></g>
<g fill="#0f67f3"><circle cx="233.3" cy="511.2" r="3"/><circle cx="233.8" cy="538.8" r="3"/><circle cx="233.8" cy="528.9" r="3"/><circle cx="233.8" cy="530.9" r="3"/><circle cx="233.5" cy="519.1" r="3"/><circle cx="233.6" cy="517.1" r="3"/></g>
<g fill="#126cf6"><circle cx="226.2" cy="523.0" r="3"/><circle cx="225.9" cy="507.0" r="3"/><circle cx="226.2" cy="543.3" r="3"/><circle cx="226.2" cy="513.0" r="3"/></g>
<g fill="#9314ad"><circle cx="289.1" cy="525.0" r="3"/><circle cx="288.7" cy="528.9" r="3"/></g>
<g fill="#4254e8"><circle cx="247.6" cy="527.1" r="3"/></g>
<g fill="#3d57ea"><circle cx="245.6" cy="522.9" r="3"/><circle cx="245.5" cy="529.3" r="3"/></g>
<g fill="#1572fa"><circle cx="217.1" cy="525.0" r="3"/><circle cx="217.2" cy="509.9" r="3"/><circle cx="217.2" cy="529.4" r="3"/></g>
<g fill="#1067f3"><circle cx="234.3" cy="534.8" r="3"/></g>
<g fill="#2560ef"><circle cx="239.5" cy="527.3" r="3"/></g>
<g fill="#5647dc"><circle cx="256.2" cy="523.3" r="3"/><circle cx="256.3" cy="525.0" r="3"/></g>
<g fill="#345bec"><circle cx="243.1" cy="518.6" r="3"/></g>
<g fill="#b00b97"><circle cx="306.6" cy="521.5" r="3"/></g>
<g fill="#5448dd"><circle cx="255.4" cy="527.9" r="3"/></g>
<g fill="#5d42d8"><circle cx="259.1" cy="520.8" r="3"/></g>
<g fill="#af0c98"><circle cx="305.9" cy="523.3" r="3"/><circle cx="305.9" cy="526.9" r="3"/></g>
<g fill="#792dc6"><circle cx="272.9" cy="527.0" r="3"/></g>
<g fill="#6140d6"><circle cx="260.9" cy="525.0" r="3"/><circle cx="260.8" cy="518.6" r="3"/></g>
<g fill="#4a4fe3"><circle cx="251.1" cy="522.4" r="3"/></g>
<g fill="#5d43d8"><circle cx="259.0" cy="527.2" r="3"/></g>
<g fill="#cd0a83"><circle cx="322.9" cy="525.0" r="3"/></g>
<g fill="#1266f3"><circle cx="234.7" cy="532.9" r="3"/><circle cx="234.7" cy="509.2" r="3"/></g>
<g fill="#bd0a8e"><circle cx="314.1" cy="528.9" r="3"/></g>
<g fill="#4353e7"><circle cx="248.0" cy="531.4" r="3"/></g>
<g fill="#315ced"><circle cx="242.3" cy="516.5" r="3"/></g>
<g fill="#e30a70"><circle cx="335.9" cy="525.0" r="3"/><circle cx="335.9" cy="523.6" r="3"/></g>
<g fill="#9512ab"><circle cx="290.3" cy="520.5" r="3"/><circle cx="289.9" cy="526.9" r="3"/></g>
<g fill="#1266f2"><circle cx="234.7" cy="540.8" r="3"/></g>
<g fill="#9a0fa7"><circle cx="293.0" cy="525.0" r="3"/></g>
<g fill="#e40a6f"><circle cx="336.4" cy="526.8" r="3"/></g>
<g fill="#ba0a91"><circle cx="312.3" cy="526.9" r="3"/></g>
<g fill="#7034cb"><circle cx="268.7" cy="526.9" r="3"/></g>
<g fill="#7034cc"><circle cx="268.3" cy="520.5" r="3"/></g>
<g fill="#6f34cc"><circle cx="268.2" cy="525.0" r="3"/></g>
<g fill="#9b0ea6"><circle cx="294.0" cy="520.5" r="3"/></g>
<g fill="#1b63f1"><circle cx="237.0" cy="519.9" r="3"/></g>
<g fill="#aa0c9c"><circle cx="302.6" cy="525.0" r="3"/></g>
<g fill="#8126bf"><circle cx="277.3" cy="522.8" r="3"/><circle cx="277.2" cy="520.5" r="3"/></g>
<g fill="#df0a74"><circle cx="333.2" cy="525.0" r="3"/></g>
<g fill="#1f62f0"><circle cx="237.9" cy="525.0" r="3"/></g>
<g fill="#2460ef"><circle cx="239.1" cy="522.4" r="3"/></g>
<g fill="#1471f9"><circle cx="218.3" cy="522.8" r="3"/></g>
<g fill="#ea0a69"><circle cx="340.1" cy="520.2" r="3"/><circle cx="340.1" cy="522.6" r="3"/></g>
<g fill="#3e57ea"><circle cx="245.7" cy="518.6" r="3"/></g>
<g fill="#1166f3"><circle cx="234.5" cy="521.1" r="3"/></g>
<g fill="#c10a8c"><circle cx="316.1" cy="526.9" r="3"/></g>
<g fill="#1565f2"><circle cx="235.4" cy="527.0" r="3"/></g>
<g fill="#0f68f3"><circle cx="233.1" cy="525.0" r="3"/><circle cx="232.7" cy="536.8" r="3"/><circle cx="233.2" cy="515.2" r="3"/></g>
<g fill="#1d62f1"><circle cx="237.4" cy="529.5" r="3"/></g>
<g fill="#b10b97"><circle cx="307.1" cy="525.0" r="3"/></g>
<g fill="#3f56e9"><circle cx="246.5" cy="520.7" r="3"/></g>
<g fill="#1572f9"><circle cx="217.4" cy="536.0" r="3"/></g>
<g fill="#5746db"><circle cx="256.7" cy="521.7" r="3"/></g>
<g fill="#772fc7"><circle cx="271.8" cy="522.7" r="3"/></g>
<g fill="#be0a8d"><circle cx="314.9" cy="522.7" r="3"/></g>
<g fill="#6f35cc"><circle cx="268.0" cy="528.9" r="3"/></g>
<g fill="#782ec7"><circle cx="272.3" cy="520.5" r="3"/></g>
<g fill="#335bed"><circle cx="242.8" cy="520.7" r="3"/></g>
<g fill="#762fc8"><circle cx="271.6" cy="525.0" r="3"/></g>
<g fill="#ec0a66"><circle cx="342.0" cy="529.5" r="3"/></g>
<g fill="#5b44d9"><circle cx="258.4" cy="529.5" r="3"/></g>
<g fill="#fa0c50"><circle cx="231.2" cy="581.5" r="3"/><circle cx="235.7" cy="579.0" r="3"/><circle cx="234.3" cy="581.5" r="3"/><circle cx="230.5" cy="581.5" r="3"/><circle cx="232.6" cy="581.5" r="3"/><circle cx="229.7" cy="581.5" r="3"/><circle cx="235.4" cy="581.5" r="3"/><circle cx="234.3" cy="580.2" r="3"/><circle cx="228.6" cy="581.5" r="3"/><circle cx="233.7" cy="581.5" r="3"/></g>
<g fill="#325fef"><circle cx="252.8" cy="587.5" r="3"/></g>
<g fill="#3060f0"><circle cx="252.5" cy="589.4" r="3"/></g>
<g fill="#5349de"><circle cx="252.5" cy="581.5" r="3"/><circle cx="251.8" cy="577.8" r="3"/></g>
<g fill="#2568f4"><circle cx="252.3" cy="570.8" r="3"/></g>
<g fill="#1573fa"><circle cx="257.6" cy="570.6" r="3"/><circle cx="256.8" cy="588.0" r="3"/><circle cx="256.6" cy="581.5" r="3"/><circle cx="257.4" cy="585.5" r="3"/><circle cx="257.5" cy="587.5" r="3"/><circle cx="257.6" cy="579.3" r="3"/><circle cx="255.8" cy="564.0" r="3"/><circle cx="256.7" cy="575.3" r="3"/><circle cx="254.4" cy="577.5" r="3"/><circle cx="257.6" cy="577.1" r="3"/><circle cx="254.7" cy="571.6" r="3"/><circle cx="254.4" cy="569.6" r="3"/><circle cx="252.3" cy="566.5" r="3"/><circle cx="257.7" cy="568.4" r="3"/><circle cx="257.3" cy="595.5" r="3"/><circle cx="255.6" cy="583.5" r="3"/><circle cx="254.3" cy="588.2" r="3"/><circle cx="252.2" cy="597.4" r="3"/><circle cx="254.6" cy="595.0" r="3"/><circle cx="257.7" cy="583.5" r="3"/><circle cx="257.2" cy="572.8" r="3"/><circle cx="255.5" cy="568.4" r="3"/><circle cx="253.4" cy="593.4" r="3"/><circle cx="255.3" cy="579.3" r="3"/><circle cx="254.5" cy="597.2" r="3"/><circle cx="255.7" cy="581.5" r="3"/><circle cx="254.2" cy="565.7" r="3"/><circle cx="257.4" cy="589.5" r="3"/><circle cx="255.7" cy="599.9" r="3"/><circle cx="257.8" cy="593.5" r="3"/><circle cx="255.4" cy="572.8" r="3"/><circle cx="255.1" cy="591.7" r="3"/><circle cx="254.3" cy="575.6" r="3"/><circle cx="256.4" cy="579.4" r="3"/><circle cx="255.2" cy="570.6" r="3"/><circle cx="254.4" cy="592.7" r="3"/><circle cx="255.4" cy="577.1" r="3"/><circle cx="256.5" cy="590.1" r="3"/><circle cx="258.5" cy="581.5" r="3"/><circle cx="253.7" cy="589.4" r="3"/><circle cx="255.7" cy="597.8" r="3"/><circle cx="256.6" cy="585.8" r="3"/><circle cx="255.3" cy="585.6" r="3"/><circle cx="256.5" cy="583.7" r="3"/><circle cx="257.2" cy="591.5" r="3"/><circle cx="255.6" cy="593.8" r="3"/><circle cx="254.6" cy="590.5" r="3"/><circle cx="257.4" cy="574.9" r="3"/><circle cx="255.3" cy="566.2" r="3"/><circle cx="252.6" cy="595.4" r="3"/><circle cx="255.2" cy="587.6" r="3"/><circle cx="256.2" cy="577.3" r="3"/><circle cx="258.4" cy="582.9" r="3"/><circle cx="258.3" cy="580.1" r="3"/><circle cx="255.4" cy="595.8" r="3"/><circle cx="253.8" cy="591.4" r="3"/><circle cx="254.4" cy="586.0" r="3"/><circle cx="256.6" cy="573.2" r="3"/><circle cx="254.2" cy="567.6" r="3"/><circle cx="254.7" cy="573.6" r="3"/><circle cx="255.5" cy="589.7" r="3"/><circle cx="257.4" cy="581.5" r="3"/><circle cx="255.2" cy="574.9" r="3"/></g>
<g fill="#4155e8"><circle cx="252.5" cy="577.2" r="3"/></g>
<g fill="#643dd3"><circle cx="250.5" cy="574.5" r="3"/></g>
<g fill="#1e6df7"><circle cx="254.3" cy="579.5" r="3"/></g>
<g fill="#4552e6"><circle cx="252.7" cy="579.4" r="3"/></g>
<g fill="#2866f3"><circle cx="252.4" cy="591.4" r="3"/><circle cx="253.4" cy="577.0" r="3"/><circle cx="254.3" cy="581.5" r="3"/></g>
<g fill="#315fef"><circle cx="253.5" cy="583.5" r="3"/></g>
<g fill="#6b38cf"><circle cx="250.4" cy="587.6" r="3"/><circle cx="251.3" cy="583.2" r="3"/></g>
<g fill="#613fd6"><circle cx="251.6" cy="579.7" r="3"/></g>
<g fill="#6d36cd"><circle cx="251.5" cy="581.5" r="3"/></g>
<g fill="#4453e7"><circle cx="253.2" cy="581.5" r="3"/></g>
<g fill="#eb0a67"><circle cx="244.3" cy="581.5" r="3"/></g>
<g fill="#1a70f8"><circle cx="253.6" cy="574.8" r="3"/></g>
<g fill="#7d2ac3"><circle cx="250.5" cy="579.2" r="3"/></g>
<g fill="#1970f8"><circle cx="253.2" cy="572.6" r="3"/></g>
<g fill="#7c2bc4"><circle cx="250.6" cy="583.5" r="3"/></g>
<g fill="#2469f4"><circle cx="252.2" cy="593.4" r="3"/></g>
<g fill="#4f4be0"><circle cx="252.3" cy="583.5" r="3"/></g>
<g fill="#b60b93"><circle cx="247.7" cy="579.0" r="3"/></g>
<g fill="#7232ca"><circle cx="250.6" cy="585.6" r="3"/></g>
<g fill="#8621ba"><circle cx="250.5" cy="581.5" r="3"/></g>
<g fill="#a70d9e"><circle cx="248.4" cy="579.0" r="3"/></g>
<g fill="#f20b5d"><circle cx="242.6" cy="581.5" r="3"/></g>
<g fill="#ec0a66"><circle cx="243.7" cy="579.0" r="3"/></g>
<g fill="#c70a88"><circle cx="246.6" cy="579.0" r="3"/></g>
<g fill="#d70a7d"><circle cx="245.5" cy="579.0" r="3"/></g>
<g fill="#1e6df6"><circle cx="253.5" cy="587.4" r="3"/></g>
<g fill="#335eef"><circle cx="253.4" cy="579.3" r="3"/></g>
<g fill="#7530c8"><circle cx="250.4" cy="576.8" r="3"/></g>
<g fill="#4751e5"><circle cx="252.3" cy="585.5" r="3"/></g>
<g fill="#2e62f0"><circle cx="252.8" cy="575.1" r="3"/></g>
<g fill="#9710a9"><circle cx="249.5" cy="581.5" r="3"/></g>
<g fill="#2766f3"><circle cx="253.5" cy="585.5" r="3"/></g>
<g fill="#1d6df7"><circle cx="254.3" cy="583.7" r="3"/></g>
<g fill="#b10b96"><circle cx="248.3" cy="581.5" r="3"/></g>
<g fill="#3160ef"><circle cx="252.3" cy="572.9" r="3"/></g>
<g fill="#f20b5e"><circle cx="242.4" cy="579.0" r="3"/></g>
<g fill="#e60a6d"><circle cx="244.2" cy="579.0" r="3"/></g>
<g fill="#5448dd"><circle cx="250.7" cy="572.1" r="3"/></g>
<g fill="#d10a81"><circle cx="246.4" cy="581.5" r="3"/></g>
<g fill="#bc0a8f"><circle cx="247.8" cy="581.5" r="3"/></g>
<g fill="#5a44da"><circle cx="250.6" cy="589.7" r="3"/></g>
<g fill="#524adf"><circle cx="250.6" cy="591.8" r="3"/></g>
<g fill="#e00a73"><circle cx="245.2" cy="581.5" r="3"/></g>
<g fill="#1d6ef7"><circle cx="252.3" cy="568.6" r="3"/></g>
<g fill="#f60b56"><circle cx="241.2" cy="581.5" r="3"/></g>
<g fill="#f00a60"><circle cx="243.2" cy="581.5" r="3"/></g>
<g fill="#8e19b2"><circle cx="249.6" cy="579.0" r="3"/></g>
<line x1="103" x2="643.5" y1="638.3" y2="638.3" stroke="#333" stroke-width="1.2"/>
<line x1="176.5" x2="176.5" y1="638.3" y2="644.3" stroke="#333" stroke-width="1.2"/>
<text x="176.5" y="660.8" font-size="16.6" text-anchor="middle" font-family="DejaVu Sans, Liberation Sans, sans-serif" stroke="#000" stroke-width="0.22" fill="#000" >−0.2</text>
<line x1="253.0" x2="253.0" y1="638.3" y2="644.3" stroke="#333" stroke-width="1.2"/>
<text x="253.0" y="660.8" font-size="16.6" text-anchor="middle" font-family="DejaVu Sans, Liberation Sans, sans-serif" stroke="#000" stroke-width="0.22" fill="#000" >0.0</text>
<line x1="329.5" x2="329.5" y1="638.3" y2="644.3" stroke="#333" stroke-width="1.2"/>
<text x="329.5" y="660.8" font-size="16.6" text-anchor="middle" font-family="DejaVu Sans, Liberation Sans, sans-serif" stroke="#000" stroke-width="0.22" fill="#000" >0.2</text>
<line x1="406.0" x2="406.0" y1="638.3" y2="644.3" stroke="#333" stroke-width="1.2"/>
<text x="406.0" y="660.8" font-size="16.6" text-anchor="middle" font-family="DejaVu Sans, Liberation Sans, sans-serif" stroke="#000" stroke-width="0.22" fill="#000" >0.4</text>
<line x1="482.5" x2="482.5" y1="638.3" y2="644.3" stroke="#333" stroke-width="1.2"/>
<text x="482.5" y="660.8" font-size="16.6" text-anchor="middle" font-family="DejaVu Sans, Liberation Sans, sans-serif" stroke="#000" stroke-width="0.22" fill="#000" >0.6</text>
<line x1="559.0" x2="559.0" y1="638.3" y2="644.3" stroke="#333" stroke-width="1.2"/>
<text x="559.0" y="660.8" font-size="16.6" text-anchor="middle" font-family="DejaVu Sans, Liberation Sans, sans-serif" stroke="#000" stroke-width="0.22" fill="#000" >0.8</text>
<line x1="635.5" x2="635.5" y1="638.3" y2="644.3" stroke="#333" stroke-width="1.2"/>
<text x="635.5" y="660.8" font-size="16.6" text-anchor="middle" font-family="DejaVu Sans, Liberation Sans, sans-serif" stroke="#000" stroke-width="0.22" fill="#000" >1.0</text>
<rect x="676.6" y="411.5" width="2.4" height="226.79999999999995" fill="url(#cb)"/>
<text x="684.2" y="418.5" font-size="16.4" text-anchor="start" font-family="DejaVu Sans, Liberation Sans, sans-serif" stroke="#000" stroke-width="0.22" fill="#000" >High</text>
<text x="684.2" y="644.8" font-size="16.4" text-anchor="start" font-family="DejaVu Sans, Liberation Sans, sans-serif" stroke="#000" stroke-width="0.22" fill="#000" >Low</text>
<text transform="translate(735.3,524.9) rotate(-90)" font-size="18.4" text-anchor="middle" font-family="DejaVu Sans, Liberation Sans, sans-serif" stroke="#000" stroke-width="0.22">Feature value</text>
<text transform="translate(782.4,384.6) scale(0.94,1)" font-size="28.8" font-weight="bold" stroke="#000" stroke-width="0.5" font-family="Liberation Sans, sans-serif" fill="#000">D</text>
<rect x="852" y="448.6" width="643" height="39.8" fill="#1573fa"/>
<text x="840.8" y="476.1" font-size="19.7" text-anchor="end" font-family="DejaVu Sans, Liberation Sans, sans-serif" stroke="#000" stroke-width="0.22" fill="#000" >IgA</text>
<rect x="852" y="505.1" width="431" height="39.8" fill="#1573fa"/>
<text x="840.8" y="532.6" font-size="19.7" text-anchor="end" font-family="DejaVu Sans, Liberation Sans, sans-serif" stroke="#000" stroke-width="0.22" fill="#000" >IgM</text>
<rect x="852" y="561.6" width="31" height="39.8" fill="#1573fa"/>
<text x="840.8" y="589.1" font-size="19.7" text-anchor="end" font-family="DejaVu Sans, Liberation Sans, sans-serif" stroke="#000" stroke-width="0.22" fill="#000" >IgG</text>
<line x1="852" x2="852" y1="411.5" y2="638.3" stroke="#4a4a4a" stroke-width="0.9"/>
<line x1="851.5" x2="1527.5" y1="638.3" y2="638.3" stroke="#333" stroke-width="1.2"/>
<line x1="851.8" x2="851.8" y1="638.3" y2="644.3" stroke="#333" stroke-width="1.2"/>
<text x="851.8" y="660.8" font-size="16.6" text-anchor="middle" font-family="DejaVu Sans, Liberation Sans, sans-serif" stroke="#000" stroke-width="0.22" fill="#000" >0.00</text>
<line x1="927.75" x2="927.75" y1="638.3" y2="644.3" stroke="#333" stroke-width="1.2"/>
<text x="927.75" y="660.8" font-size="16.6" text-anchor="middle" font-family="DejaVu Sans, Liberation Sans, sans-serif" stroke="#000" stroke-width="0.22" fill="#000" >0.02</text>
<line x1="1003.6999999999999" x2="1003.6999999999999" y1="638.3" y2="644.3" stroke="#333" stroke-width="1.2"/>
<text x="1003.6999999999999" y="660.8" font-size="16.6" text-anchor="middle" font-family="DejaVu Sans, Liberation Sans, sans-serif" stroke="#000" stroke-width="0.22" fill="#000" >0.04</text>
<line x1="1079.65" x2="1079.65" y1="638.3" y2="644.3" stroke="#333" stroke-width="1.2"/>
<text x="1079.65" y="660.8" font-size="16.6" text-anchor="middle" font-family="DejaVu Sans, Liberation Sans, sans-serif" stroke="#000" stroke-width="0.22" fill="#000" >0.06</text>
<line x1="1155.6" x2="1155.6" y1="638.3" y2="644.3" stroke="#333" stroke-width="1.2"/>
<text x="1155.6" y="660.8" font-size="16.6" text-anchor="middle" font-family="DejaVu Sans, Liberation Sans, sans-serif" stroke="#000" stroke-width="0.22" fill="#000" >0.08</text>
<line x1="1231.55" x2="1231.55" y1="638.3" y2="644.3" stroke="#333" stroke-width="1.2"/>
<text x="1231.55" y="660.8" font-size="16.6" text-anchor="middle" font-family="DejaVu Sans, Liberation Sans, sans-serif" stroke="#000" stroke-width="0.22" fill="#000" >0.10</text>
<line x1="1307.5" x2="1307.5" y1="638.3" y2="644.3" stroke="#333" stroke-width="1.2"/>
<text x="1307.5" y="660.8" font-size="16.6" text-anchor="middle" font-family="DejaVu Sans, Liberation Sans, sans-serif" stroke="#000" stroke-width="0.22" fill="#000" >0.12</text>
<line x1="1383.4499999999998" x2="1383.4499999999998" y1="638.3" y2="644.3" stroke="#333" stroke-width="1.2"/>
<text x="1383.4499999999998" y="660.8" font-size="16.6" text-anchor="middle" font-family="DejaVu Sans, Liberation Sans, sans-serif" stroke="#000" stroke-width="0.22" fill="#000" >0.14</text>
<line x1="1459.4" x2="1459.4" y1="638.3" y2="644.3" stroke="#333" stroke-width="1.2"/>
<text x="1459.4" y="660.8" font-size="16.6" text-anchor="middle" font-family="DejaVu Sans, Liberation Sans, sans-serif" stroke="#000" stroke-width="0.22" fill="#000" >0.16</text>
<text transform="translate(9.5,727.6) scale(0.94,1)" font-size="28.8" font-weight="bold" stroke="#000" stroke-width="0.5" font-family="Liberation Sans, sans-serif" fill="#000">E</text>
<text x="372.7" y="740.2" font-size="18.1" text-anchor="middle" font-family="DejaVu Sans, Liberation Sans, sans-serif" stroke="#000" stroke-width="0.22" fill="#000" >HHC x NC</text>
<line x1="98" x2="644.5" y1="806" y2="806" stroke="#dadada" stroke-width="1" stroke-dasharray="1.4,3.1"/>
<line x1="98" x2="644.5" y1="862.5" y2="862.5" stroke="#dadada" stroke-width="1" stroke-dasharray="1.4,3.1"/>
<line x1="98" x2="644.5" y1="919" y2="919" stroke="#dadada" stroke-width="1" stroke-dasharray="1.4,3.1"/>
<text x="66.9" y="813.6" font-size="19.7" text-anchor="end" font-family="DejaVu Sans, Liberation Sans, sans-serif" stroke="#000" stroke-width="0.22" fill="#000" >IgA</text>
<text x="66.9" y="870.1" font-size="19.7" text-anchor="end" font-family="DejaVu Sans, Liberation Sans, sans-serif" stroke="#000" stroke-width="0.22" fill="#000" >IgG</text>
<text x="66.9" y="926.6" font-size="19.7" text-anchor="end" font-family="DejaVu Sans, Liberation Sans, sans-serif" stroke="#000" stroke-width="0.22" fill="#000" >IgM</text>
<line x1="413.8" x2="413.8" y1="749.7" y2="975.8" stroke="#7f7f7f" stroke-width="2.2"/>
<g fill="#663cd3"><circle cx="400.4" cy="794.8" r="3"/></g>
<g fill="#c60a88"><circle cx="444.9" cy="808.3" r="3"/></g>
<g fill="#de0a75"><circle cx="459.4" cy="798.4" r="3"/></g>
<g fill="#d30a80"><circle cx="451.9" cy="798.4" r="3"/><circle cx="451.7" cy="800.3" r="3"/></g>
<g fill="#5349de"><circle cx="394.0" cy="812.2" r="3"/><circle cx="394.1" cy="810.1" r="3"/></g>
<g fill="#1573fa"><circle cx="351.0" cy="808.9" r="3"/><circle cx="347.4" cy="807.6" r="3"/><circle cx="350.2" cy="800.9" r="3"/><circle cx="357.3" cy="795.5" r="3"/><circle cx="352.0" cy="803.4" r="3"/><circle cx="346.3" cy="807.6" r="3"/><circle cx="348.7" cy="804.4" r="3"/><circle cx="347.5" cy="809.3" r="3"/><circle cx="356.0" cy="815.5" r="3"/><circle cx="348.0" cy="806.0" r="3"/><circle cx="344.5" cy="802.7" r="3"/><circle cx="344.7" cy="806.0" r="3"/><circle cx="338.5" cy="806.0" r="3"/><circle cx="344.5" cy="809.3" r="3"/><circle cx="356.3" cy="809.8" r="3"/><circle cx="356.3" cy="799.7" r="3"/><circle cx="357.4" cy="801.8" r="3"/><circle cx="356.8" cy="811.7" r="3"/><circle cx="356.7" cy="793.4" r="3"/><circle cx="353.3" cy="808.3" r="3"/><circle cx="344.7" cy="804.4" r="3"/><circle cx="357.0" cy="807.9" r="3"/><circle cx="357.7" cy="797.6" r="3"/><circle cx="356.1" cy="813.6" r="3"/><circle cx="350.2" cy="806.0" r="3"/><circle cx="348.7" cy="802.7" r="3"/><circle cx="330.5" cy="806.0" r="3"/><circle cx="353.6" cy="806.0" r="3"/><circle cx="353.2" cy="800.9" r="3"/><circle cx="322.0" cy="806.0" r="3"/><circle cx="354.4" cy="803.4" r="3"/><circle cx="357.4" cy="803.9" r="3"/><circle cx="354.3" cy="810.5" r="3"/><circle cx="357.3" cy="806.0" r="3"/></g>
<g fill="#772ec7"><circle cx="406.8" cy="799.7" r="3"/><circle cx="406.9" cy="807.9" r="3"/></g>
<g fill="#e20a72"><circle cx="462.3" cy="806.0" r="3"/></g>
<g fill="#b20b96"><circle cx="435.2" cy="808.9" r="3"/><circle cx="434.9" cy="803.8" r="3"/></g>
<g fill="#315ced"><circle cx="383.1" cy="802.0" r="3"/><circle cx="383.0" cy="817.3" r="3"/><circle cx="383.0" cy="810.5" r="3"/><circle cx="383.2" cy="806.0" r="3"/></g>
<g fill="#f00a61"><circle cx="475.1" cy="809.7" r="3"/><circle cx="475.2" cy="803.9" r="3"/><circle cx="474.9" cy="807.8" r="3"/><circle cx="475.1" cy="806.0" r="3"/><circle cx="475.0" cy="799.7" r="3"/></g>
<g fill="#f20b5e"><circle cx="478.5" cy="806.0" r="3"/></g>
<g fill="#2e5ded"><circle cx="382.4" cy="808.3" r="3"/></g>
<g fill="#dc0a78"><circle cx="457.8" cy="802.2" r="3"/><circle cx="457.7" cy="800.3" r="3"/><circle cx="458.0" cy="804.1" r="3"/></g>
<g fill="#9314ad"><circle cx="421.1" cy="801.6" r="3"/><circle cx="421.3" cy="807.9" r="3"/><circle cx="421.0" cy="799.4" r="3"/><circle cx="421.3" cy="806.0" r="3"/></g>
<g fill="#e40a6f"><circle cx="464.0" cy="806.0" r="3"/><circle cx="464.1" cy="812.1" r="3"/><circle cx="463.9" cy="808.0" r="3"/></g>
<g fill="#1572f9"><circle cx="359.3" cy="806.0" r="3"/><circle cx="359.2" cy="807.9" r="3"/></g>
<g fill="#fa0c50"><circle cx="514.6" cy="803.7" r="3"/><circle cx="526.1" cy="806.0" r="3"/><circle cx="554.0" cy="806.0" r="3"/><circle cx="593.9" cy="803.5" r="3"/><circle cx="516.3" cy="806.0" r="3"/><circle cx="499.5" cy="810.6" r="3"/><circle cx="499.7" cy="808.3" r="3"/><circle cx="511.1" cy="806.0" r="3"/><circle cx="504.5" cy="806.0" r="3"/><circle cx="498.6" cy="804.0" r="3"/><circle cx="593.9" cy="806.0" r="3"/><circle cx="514.5" cy="806.0" r="3"/><circle cx="498.2" cy="802.0" r="3"/><circle cx="496.4" cy="806.0" r="3"/><circle cx="500.1" cy="806.0" r="3"/><circle cx="505.5" cy="804.8" r="3"/><circle cx="618.2" cy="806.0" r="3"/><circle cx="538.2" cy="806.0" r="3"/><circle cx="510.7" cy="803.7" r="3"/><circle cx="498.3" cy="800.0" r="3"/><circle cx="502.3" cy="806.0" r="3"/><circle cx="559.0" cy="806.0" r="3"/><circle cx="501.2" cy="803.8" r="3"/></g>
<g fill="#1067f3"><circle cx="374.1" cy="806.0" r="3"/></g>
<g fill="#4a4ee3"><circle cx="391.0" cy="799.7" r="3"/></g>
<g fill="#d60a7e"><circle cx="453.5" cy="804.1" r="3"/><circle cx="453.3" cy="806.0" r="3"/></g>
<g fill="#1472f9"><circle cx="359.5" cy="809.8" r="3"/><circle cx="359.6" cy="811.7" r="3"/><circle cx="359.5" cy="815.5" r="3"/><circle cx="359.4" cy="813.6" r="3"/><circle cx="359.5" cy="797.2" r="3"/><circle cx="359.9" cy="799.4" r="3"/></g>
<g fill="#9e0ea4"><circle cx="426.5" cy="808.4" r="3"/><circle cx="426.6" cy="797.8" r="3"/><circle cx="426.5" cy="804.0" r="3"/></g>
<g fill="#f70c55"><circle cx="488.3" cy="801.8" r="3"/><circle cx="488.0" cy="810.6" r="3"/><circle cx="488.0" cy="812.8" r="3"/></g>
<g fill="#782ec6"><circle cx="407.1" cy="801.8" r="3"/></g>
<g fill="#f60b56"><circle cx="486.6" cy="803.9" r="3"/></g>
<g fill="#f30b5b"><circle cx="481.4" cy="803.7" r="3"/><circle cx="481.4" cy="801.4" r="3"/><circle cx="481.2" cy="810.6" r="3"/></g>
<g fill="#136ff8"><circle cx="363.3" cy="802.0" r="3"/><circle cx="363.5" cy="800.0" r="3"/><circle cx="363.0" cy="798.1" r="3"/></g>
<g fill="#f70b55"><circle cx="487.6" cy="799.7" r="3"/><circle cx="487.5" cy="808.3" r="3"/></g>
<g fill="#126ef7"><circle cx="364.8" cy="796.5" r="3"/><circle cx="365.0" cy="806.0" r="3"/></g>
<g fill="#7e29c2"><circle cx="409.8" cy="815.5" r="3"/><circle cx="409.7" cy="797.5" r="3"/><circle cx="409.5" cy="809.8" r="3"/><circle cx="409.6" cy="811.7" r="3"/><circle cx="409.5" cy="795.3" r="3"/></g>
<g fill="#1069f4"><circle cx="371.6" cy="803.7" r="3"/><circle cx="371.3" cy="796.8" r="3"/><circle cx="371.8" cy="801.4" r="3"/><circle cx="371.2" cy="808.3" r="3"/><circle cx="371.1" cy="810.6" r="3"/><circle cx="371.0" cy="806.0" r="3"/><circle cx="371.1" cy="799.1" r="3"/></g>
<g fill="#3c58eb"><circle cx="386.1" cy="798.0" r="3"/><circle cx="386.1" cy="792.0" r="3"/><circle cx="386.1" cy="814.0" r="3"/><circle cx="386.0" cy="812.0" r="3"/></g>
<g fill="#d00a82"><circle cx="450.2" cy="806.0" r="3"/><circle cx="450.4" cy="800.3" r="3"/></g>
<g fill="#7034cc"><circle cx="404.1" cy="803.9" r="3"/><circle cx="404.2" cy="793.4" r="3"/><circle cx="404.2" cy="813.7" r="3"/></g>
<g fill="#4254e7"><circle cx="388.1" cy="801.6" r="3"/><circle cx="388.1" cy="795.0" r="3"/></g>
<g fill="#4b4ee2"><circle cx="391.2" cy="793.4" r="3"/></g>
<g fill="#2360ef"><circle cx="379.5" cy="813.0" r="3"/></g>
<g fill="#891eb7"><circle cx="415.6" cy="810.7" r="3"/><circle cx="415.6" cy="801.6" r="3"/><circle cx="415.5" cy="803.8" r="3"/></g>
<g fill="#4453e6"><circle cx="388.7" cy="803.8" r="3"/><circle cx="388.7" cy="792.8" r="3"/></g>
<g fill="#0f67f3"><circle cx="373.7" cy="808.2" r="3"/><circle cx="373.5" cy="812.7" r="3"/><circle cx="373.8" cy="810.4" r="3"/><circle cx="373.5" cy="801.5" r="3"/><circle cx="373.7" cy="814.9" r="3"/><circle cx="373.9" cy="799.3" r="3"/></g>
<g fill="#e00a73"><circle cx="461.0" cy="803.7" r="3"/><circle cx="461.1" cy="808.5" r="3"/></g>
<g fill="#4d4de2"><circle cx="391.7" cy="812.0" r="3"/></g>
<g fill="#ef0a62"><circle cx="473.7" cy="810.6" r="3"/></g>
<g fill="#d80a7c"><circle cx="454.6" cy="806.0" r="3"/><circle cx="454.8" cy="800.4" r="3"/></g>
<g fill="#305ced"><circle cx="382.8" cy="804.0" r="3"/><circle cx="382.8" cy="819.6" r="3"/></g>
<g fill="#504be0"><circle cx="392.7" cy="808.0" r="3"/><circle cx="392.7" cy="814.0" r="3"/></g>
<g fill="#8621ba"><circle cx="414.0" cy="813.0" r="3"/></g>
<g fill="#782ec7"><circle cx="407.0" cy="806.0" r="3"/><circle cx="407.1" cy="813.6" r="3"/></g>
<g fill="#a40da0"><circle cx="429.0" cy="800.5" r="3"/><circle cx="429.0" cy="810.3" r="3"/></g>
<g fill="#8b1cb5"><circle cx="417.0" cy="809.5" r="3"/><circle cx="416.9" cy="798.4" r="3"/><circle cx="417.0" cy="804.1" r="3"/></g>
<g fill="#3b58eb"><circle cx="385.8" cy="800.0" r="3"/><circle cx="385.8" cy="808.0" r="3"/><circle cx="385.8" cy="818.0" r="3"/></g>
<g fill="#116af5"><circle cx="369.4" cy="810.8" r="3"/></g>
<g fill="#c50a89"><circle cx="444.6" cy="804.3" r="3"/><circle cx="444.3" cy="810.6" r="3"/></g>
<g fill="#2560ef"><circle cx="379.8" cy="794.8" r="3"/><circle cx="379.9" cy="806.0" r="3"/><circle cx="379.8" cy="815.4" r="3"/></g>
<g fill="#9d0ea4"><circle cx="426.3" cy="806.0" r="3"/></g>
<g fill="#ef0a63"><circle cx="473.2" cy="808.3" r="3"/><circle cx="473.0" cy="806.0" r="3"/><circle cx="473.5" cy="800.3" r="3"/><circle cx="473.1" cy="802.2" r="3"/></g>
<g fill="#1e62f0"><circle cx="378.0" cy="814.9" r="3"/><circle cx="378.0" cy="802.1" r="3"/><circle cx="378.0" cy="804.1" r="3"/></g>
<g fill="#7431c9"><circle cx="405.8" cy="815.5" r="3"/></g>
<g fill="#5647dc"><circle cx="394.8" cy="806.0" r="3"/><circle cx="395.0" cy="803.7" r="3"/></g>
<g fill="#4e4ce1"><circle cx="392.0" cy="803.9" r="3"/><circle cx="392.1" cy="816.0" r="3"/></g>
<g fill="#6e35cd"><circle cx="403.6" cy="801.8" r="3"/><circle cx="403.6" cy="806.0" r="3"/></g>
<g fill="#3a59eb"><circle cx="385.6" cy="820.0" r="3"/><circle cx="385.5" cy="810.0" r="3"/><circle cx="385.4" cy="806.0" r="3"/></g>
<g fill="#345bec"><circle cx="383.9" cy="812.8" r="3"/></g>
<g fill="#f60b57"><circle cx="485.4" cy="809.6" r="3"/><circle cx="485.4" cy="811.4" r="3"/></g>
<g fill="#c90a87"><circle cx="446.3" cy="800.5" r="3"/></g>
<g fill="#3d57ea"><circle cx="386.5" cy="790.1" r="3"/><circle cx="386.5" cy="804.0" r="3"/><circle cx="386.4" cy="802.0" r="3"/></g>
<g fill="#e80a6a"><circle cx="467.4" cy="806.0" r="3"/><circle cx="467.7" cy="804.8" r="3"/></g>
<g fill="#643dd4"><circle cx="399.8" cy="812.0" r="3"/></g>
<g fill="#be0a8e"><circle cx="440.6" cy="810.6" r="3"/><circle cx="440.7" cy="806.0" r="3"/></g>
<g fill="#a70d9e"><circle cx="430.2" cy="808.2" r="3"/><circle cx="430.3" cy="806.0" r="3"/></g>
<g fill="#ce0a83"><circle cx="449.5" cy="810.6" r="3"/><circle cx="449.2" cy="802.2" r="3"/><circle cx="449.4" cy="808.3" r="3"/></g>
<g fill="#335bed"><circle cx="383.6" cy="792.0" r="3"/><circle cx="383.5" cy="794.0" r="3"/></g>
<g fill="#4652e5"><circle cx="389.3" cy="799.4" r="3"/></g>
<g fill="#9f0ea3"><circle cx="427.0" cy="801.9" r="3"/><circle cx="426.8" cy="810.8" r="3"/></g>
<g fill="#8d1ab3"><circle cx="417.7" cy="806.0" r="3"/><circle cx="417.9" cy="811.3" r="3"/><circle cx="417.8" cy="807.8" r="3"/><circle cx="417.7" cy="802.2" r="3"/></g>
<g fill="#5f41d7"><circle cx="398.1" cy="812.5" r="3"/><circle cx="397.8" cy="808.2" r="3"/><circle cx="398.2" cy="810.3" r="3"/></g>
<g fill="#f50b58"><circle cx="484.9" cy="806.0" r="3"/><circle cx="484.8" cy="798.4" r="3"/><circle cx="484.2" cy="800.3" r="3"/><circle cx="484.9" cy="802.2" r="3"/></g>
<g fill="#1c63f1"><circle cx="377.6" cy="800.2" r="3"/></g>
<g fill="#7c2ac3"><circle cx="408.8" cy="803.9" r="3"/></g>
<g fill="#8720b9"><circle cx="414.3" cy="806.0" r="3"/><circle cx="414.6" cy="799.4" r="3"/></g>
<g fill="#4651e5"><circle cx="389.4" cy="816.5" r="3"/><circle cx="389.6" cy="797.2" r="3"/></g>
<g fill="#633ed4"><circle cx="399.6" cy="808.0" r="3"/><circle cx="399.6" cy="801.5" r="3"/></g>
<g fill="#4a4fe3"><circle cx="390.8" cy="797.6" r="3"/></g>
<g fill="#9215ae"><circle cx="420.7" cy="809.9" r="3"/><circle cx="420.6" cy="803.8" r="3"/></g>
<g fill="#7b2bc4"><circle cx="408.3" cy="799.6" r="3"/></g>
<g fill="#8423bc"><circle cx="412.8" cy="802.2" r="3"/></g>
<g fill="#1370f8"><circle cx="362.4" cy="804.0" r="3"/><circle cx="362.0" cy="807.8" r="3"/><circle cx="362.2" cy="806.0" r="3"/><circle cx="362.6" cy="809.7" r="3"/><circle cx="362.1" cy="811.5" r="3"/></g>
<g fill="#4154e8"><circle cx="387.8" cy="812.3" r="3"/></g>
<g fill="#772fc7"><circle cx="406.6" cy="795.5" r="3"/></g>
<g fill="#126df7"><circle cx="365.9" cy="808.2" r="3"/><circle cx="365.9" cy="798.4" r="3"/><circle cx="365.5" cy="802.2" r="3"/><circle cx="365.7" cy="812.7" r="3"/></g>
<g fill="#4d4de1"><circle cx="391.8" cy="795.5" r="3"/><circle cx="391.8" cy="806.0" r="3"/></g>
<g fill="#6040d6"><circle cx="398.5" cy="803.8" r="3"/><circle cx="398.5" cy="806.0" r="3"/><circle cx="398.3" cy="801.5" r="3"/></g>
<g fill="#5448dd"><circle cx="394.4" cy="814.3" r="3"/></g>
<g fill="#1964f1"><circle cx="376.7" cy="808.2" r="3"/><circle cx="376.8" cy="810.4" r="3"/></g>
<g fill="#b90a91"><circle cx="437.8" cy="803.5" r="3"/></g>
<g fill="#bd0a8e"><circle cx="440.4" cy="804.1" r="3"/><circle cx="440.1" cy="802.3" r="3"/></g>
<g fill="#9710a9"><circle cx="423.6" cy="806.0" r="3"/><circle cx="423.6" cy="804.0" r="3"/><circle cx="423.7" cy="800.1" r="3"/><circle cx="423.3" cy="813.2" r="3"/></g>
<g fill="#325bed"><circle cx="383.3" cy="800.0" r="3"/><circle cx="383.4" cy="798.0" r="3"/></g>
<g fill="#6d36ce"><circle cx="403.2" cy="809.9" r="3"/><circle cx="403.1" cy="797.6" r="3"/></g>
<g fill="#653cd3"><circle cx="400.3" cy="814.0" r="3"/><circle cx="400.3" cy="797.0" r="3"/><circle cx="400.4" cy="803.8" r="3"/></g>
<g fill="#a50d9f"><circle cx="429.3" cy="804.2" r="3"/><circle cx="429.6" cy="802.4" r="3"/></g>
<g fill="#dd0a77"><circle cx="458.5" cy="810.0" r="3"/></g>
<g fill="#f70b56"><circle cx="486.9" cy="806.0" r="3"/></g>
<g fill="#cf0a82"><circle cx="449.8" cy="798.4" r="3"/></g>
<g fill="#e10a72"><circle cx="461.8" cy="801.4" r="3"/><circle cx="462.0" cy="811.0" r="3"/><circle cx="462.1" cy="799.0" r="3"/></g>
<g fill="#116bf6"><circle cx="368.2" cy="806.0" r="3"/><circle cx="368.0" cy="813.2" r="3"/><circle cx="368.1" cy="800.2" r="3"/><circle cx="368.1" cy="804.1" r="3"/></g>
<g fill="#da0a7a"><circle cx="456.3" cy="810.6" r="3"/><circle cx="456.2" cy="802.3" r="3"/><circle cx="456.1" cy="808.3" r="3"/></g>
<g fill="#7d2ac3"><circle cx="409.0" cy="813.6" r="3"/><circle cx="409.2" cy="801.7" r="3"/><circle cx="408.9" cy="807.9" r="3"/></g>
<g fill="#6b38cf"><circle cx="402.4" cy="795.5" r="3"/><circle cx="402.4" cy="807.9" r="3"/></g>
<g fill="#3959ec"><circle cx="385.2" cy="796.0" r="3"/></g>
<g fill="#990fa7"><circle cx="424.4" cy="808.4" r="3"/></g>
<g fill="#4552e6"><circle cx="389.2" cy="814.4" r="3"/><circle cx="389.0" cy="818.5" r="3"/><circle cx="389.1" cy="808.1" r="3"/></g>
<g fill="#ee0a63"><circle cx="472.8" cy="798.4" r="3"/></g>
<g fill="#990fa8"><circle cx="424.3" cy="810.8" r="3"/></g>
<g fill="#c40a8a"><circle cx="443.7" cy="806.0" r="3"/></g>
<g fill="#116bf5"><circle cx="368.5" cy="798.3" r="3"/><circle cx="368.9" cy="802.1" r="3"/><circle cx="368.4" cy="808.4" r="3"/></g>
<g fill="#1764f2"><circle cx="376.2" cy="796.4" r="3"/></g>
<g fill="#295eee"><circle cx="381.1" cy="801.5" r="3"/><circle cx="381.0" cy="803.8" r="3"/></g>
<g fill="#126df6"><circle cx="366.1" cy="814.9" r="3"/><circle cx="366.4" cy="800.3" r="3"/><circle cx="366.6" cy="804.1" r="3"/><circle cx="366.6" cy="810.4" r="3"/></g>
<g fill="#8324bd"><circle cx="412.2" cy="798.4" r="3"/><circle cx="412.5" cy="813.0" r="3"/><circle cx="412.5" cy="808.3" r="3"/><circle cx="412.2" cy="800.3" r="3"/></g>
<g fill="#c00a8c"><circle cx="441.7" cy="808.3" r="3"/><circle cx="441.7" cy="800.4" r="3"/></g>
<g fill="#1b63f1"><circle cx="377.1" cy="812.7" r="3"/><circle cx="377.3" cy="798.3" r="3"/></g>
<g fill="#5846db"><circle cx="395.6" cy="801.4" r="3"/><circle cx="395.6" cy="799.1" r="3"/></g>
<g fill="#d90a7a"><circle cx="455.9" cy="804.1" r="3"/></g>
<g fill="#980fa8"><circle cx="423.9" cy="798.2" r="3"/><circle cx="423.7" cy="802.1" r="3"/><circle cx="424.0" cy="796.2" r="3"/></g>
<g fill="#7630c8"><circle cx="406.3" cy="797.6" r="3"/><circle cx="406.3" cy="811.7" r="3"/></g>
<g fill="#4f4ce0"><circle cx="392.4" cy="810.0" r="3"/></g>
<g fill="#1470f8"><circle cx="361.9" cy="813.4" r="3"/></g>
<g fill="#f20b5d"><circle cx="479.6" cy="802.7" r="3"/><circle cx="478.8" cy="804.3" r="3"/></g>
<g fill="#ab0c9b"><circle cx="431.9" cy="803.8" r="3"/></g>
<g fill="#f50b59"><circle cx="483.7" cy="804.1" r="3"/><circle cx="483.7" cy="807.8" r="3"/></g>
<g fill="#e50a6e"><circle cx="464.6" cy="799.1" r="3"/><circle cx="464.8" cy="810.1" r="3"/><circle cx="464.9" cy="803.7" r="3"/><circle cx="464.6" cy="801.4" r="3"/></g>
<g fill="#ee0a64"><circle cx="472.1" cy="804.1" r="3"/></g>
<g fill="#7332ca"><circle cx="405.4" cy="809.8" r="3"/><circle cx="405.4" cy="803.9" r="3"/></g>
<g fill="#5249de"><circle cx="393.6" cy="794.5" r="3"/></g>
<g fill="#2f5ced"><circle cx="382.6" cy="815.1" r="3"/></g>
<g fill="#285fef"><circle cx="380.7" cy="808.3" r="3"/></g>
<g fill="#2e5dee"><circle cx="382.2" cy="790.0" r="3"/><circle cx="382.2" cy="788.0" r="3"/></g>
<g fill="#ca0a85"><circle cx="447.2" cy="806.0" r="3"/></g>
<g fill="#f00a60"><circle cx="476.3" cy="801.8" r="3"/></g>
<g fill="#5746db"><circle cx="395.3" cy="816.4" r="3"/><circle cx="395.4" cy="808.1" r="3"/></g>
<g fill="#cb0a85"><circle cx="447.8" cy="808.3" r="3"/><circle cx="447.8" cy="810.6" r="3"/></g>
<g fill="#7034cb"><circle cx="404.3" cy="799.7" r="3"/></g>
<g fill="#3859ec"><circle cx="384.9" cy="794.0" r="3"/></g>
<g fill="#673bd2"><circle cx="400.9" cy="806.0" r="3"/><circle cx="400.8" cy="810.0" r="3"/></g>
<g fill="#8225be"><circle cx="411.8" cy="804.1" r="3"/><circle cx="411.7" cy="806.0" r="3"/></g>
<g fill="#1471f9"><circle cx="360.1" cy="801.6" r="3"/><circle cx="360.8" cy="803.8" r="3"/></g>
<g fill="#ae0c99"><circle cx="433.3" cy="808.2" r="3"/></g>
<g fill="#106af5"><circle cx="370.5" cy="812.9" r="3"/></g>
<g fill="#d50a7f"><circle cx="452.7" cy="808.3" r="3"/></g>
<g fill="#6c37ce"><circle cx="402.9" cy="811.8" r="3"/></g>
<g fill="#762fc8"><circle cx="406.5" cy="793.4" r="3"/></g>
<g fill="#f30b5c"><circle cx="480.8" cy="799.1" r="3"/><circle cx="480.7" cy="806.0" r="3"/></g>
<g fill="#5d42d8"><circle cx="397.5" cy="799.3" r="3"/></g>
<g fill="#1572fa"><circle cx="359.1" cy="795.0" r="3"/></g>
<g fill="#7f28c1"><circle cx="409.9" cy="806.0" r="3"/></g>
<g fill="#4751e5"><circle cx="389.8" cy="806.0" r="3"/></g>
<g fill="#265fef"><circle cx="380.1" cy="797.0" r="3"/><circle cx="380.2" cy="810.7" r="3"/></g>
<g fill="#4c4ee2"><circle cx="391.4" cy="818.0" r="3"/></g>
<g fill="#f40b5a"><circle cx="482.5" cy="808.3" r="3"/></g>
<g fill="#3f56e9"><circle cx="386.9" cy="816.0" r="3"/></g>
<g fill="#8126bf"><circle cx="411.1" cy="810.7" r="3"/></g>
<g fill="#9116af"><circle cx="420.0" cy="811.8" r="3"/></g>
<g fill="#a00ea3"><circle cx="427.3" cy="799.9" r="3"/></g>
<g fill="#dc0a77"><circle cx="458.3" cy="808.0" r="3"/></g>
<g fill="#d50a7e"><circle cx="453.1" cy="810.6" r="3"/></g>
<g fill="#ad0c99"><circle cx="432.9" cy="810.3" r="3"/><circle cx="433.0" cy="806.0" r="3"/></g>
<g fill="#5746dc"><circle cx="395.2" cy="796.8" r="3"/></g>
<g fill="#dd0a76"><circle cx="458.7" cy="806.0" r="3"/></g>
<g fill="#b50b94"><circle cx="436.1" cy="801.6" r="3"/><circle cx="436.1" cy="806.0" r="3"/></g>
<g fill="#5b43d9"><circle cx="396.7" cy="814.6" r="3"/><circle cx="396.7" cy="794.8" r="3"/></g>
<g fill="#683ad1"><circle cx="401.2" cy="816.0" r="3"/><circle cx="401.4" cy="818.0" r="3"/></g>
<g fill="#663bd2"><circle cx="400.7" cy="799.3" r="3"/></g>
<g fill="#1166f3"><circle cx="374.7" cy="797.0" r="3"/><circle cx="374.6" cy="803.8" r="3"/></g>
<g fill="#116cf6"><circle cx="367.9" cy="796.3" r="3"/></g>
<g fill="#ac0c9a"><circle cx="432.6" cy="801.7" r="3"/></g>
<g fill="#9e0ea3"><circle cx="426.8" cy="813.2" r="3"/></g>
<g fill="#c90a86"><circle cx="446.5" cy="804.2" r="3"/><circle cx="446.5" cy="802.4" r="3"/></g>
<g fill="#c60a89"><circle cx="444.7" cy="802.6" r="3"/></g>
<g fill="#ba0a90"><circle cx="438.6" cy="806.0" r="3"/></g>
<g fill="#b80a92"><circle cx="437.6" cy="808.6" r="3"/></g>
<g fill="#eb0a68"><circle cx="469.3" cy="806.0" r="3"/></g>
<g fill="#5c43d9"><circle cx="396.9" cy="816.8" r="3"/><circle cx="397.1" cy="797.0" r="3"/></g>
<g fill="#881fb8"><circle cx="415.4" cy="808.3" r="3"/></g>
<g fill="#2360f0"><circle cx="379.2" cy="799.3" r="3"/></g>
<g fill="#4c4de2"><circle cx="391.6" cy="801.8" r="3"/></g>
<g fill="#ec0a66"><circle cx="470.5" cy="804.8" r="3"/></g>
<g fill="#1d62f1"><circle cx="377.6" cy="806.0" r="3"/></g>
<g fill="#8c1bb4"><circle cx="417.1" cy="800.3" r="3"/></g>
<g fill="#d40a7f"><circle cx="452.4" cy="802.2" r="3"/></g>
<g fill="#4353e7"><circle cx="388.4" cy="810.2" r="3"/></g>
<g fill="#cf0a83"><circle cx="449.5" cy="804.1" r="3"/></g>
<g fill="#bb0a90"><circle cx="439.0" cy="801.0" r="3"/></g>
<g fill="#345bed"><circle cx="383.7" cy="796.0" r="3"/></g>
<g fill="#fa0c50"><circle cx="308.9" cy="862.5" r="3"/><circle cx="160.8" cy="862.5" r="3"/><circle cx="377.0" cy="864.6" r="3"/><circle cx="375.0" cy="862.5" r="3"/><circle cx="381.5" cy="860.6" r="3"/><circle cx="378.3" cy="860.6" r="3"/><circle cx="372.0" cy="862.5" r="3"/><circle cx="325.5" cy="862.5" r="3"/><circle cx="341.1" cy="862.5" r="3"/><circle cx="375.3" cy="864.6" r="3"/><circle cx="312.1" cy="862.5" r="3"/><circle cx="378.8" cy="862.5" r="3"/><circle cx="361.9" cy="862.5" r="3"/><circle cx="380.8" cy="862.5" r="3"/><circle cx="364.8" cy="862.5" r="3"/><circle cx="353.5" cy="862.5" r="3"/><circle cx="127.0" cy="862.5" r="3"/><circle cx="381.3" cy="864.6" r="3"/><circle cx="326.9" cy="862.5" r="3"/><circle cx="374.2" cy="860.6" r="3"/><circle cx="369.6" cy="862.5" r="3"/><circle cx="338.1" cy="862.5" r="3"/></g>
<g fill="#1a6ff8"><circle cx="429.1" cy="868.5" r="3"/><circle cx="429.1" cy="862.5" r="3"/></g>
<g fill="#4453e7"><circle cx="421.7" cy="860.5" r="3"/></g>
<g fill="#1f6cf6"><circle cx="428.1" cy="872.5" r="3"/><circle cx="428.2" cy="844.7" r="3"/></g>
<g fill="#1573fa"><circle cx="431.3" cy="866.4" r="3"/><circle cx="430.8" cy="870.2" r="3"/><circle cx="441.9" cy="862.5" r="3"/><circle cx="436.9" cy="867.6" r="3"/><circle cx="443.6" cy="862.5" r="3"/><circle cx="430.8" cy="852.5" r="3"/><circle cx="433.5" cy="869.4" r="3"/><circle cx="430.6" cy="864.4" r="3"/><circle cx="434.4" cy="850.6" r="3"/><circle cx="434.3" cy="867.1" r="3"/><circle cx="433.8" cy="852.6" r="3"/><circle cx="432.0" cy="874.1" r="3"/><circle cx="430.7" cy="872.2" r="3"/><circle cx="438.6" cy="858.7" r="3"/><circle cx="432.5" cy="854.5" r="3"/><circle cx="431.5" cy="856.5" r="3"/><circle cx="436.8" cy="860.6" r="3"/><circle cx="430.4" cy="860.5" r="3"/><circle cx="433.7" cy="856.6" r="3"/><circle cx="440.0" cy="857.5" r="3"/><circle cx="432.1" cy="858.5" r="3"/><circle cx="433.6" cy="854.6" r="3"/><circle cx="430.4" cy="868.3" r="3"/><circle cx="434.7" cy="864.8" r="3"/><circle cx="434.2" cy="862.5" r="3"/><circle cx="434.9" cy="860.5" r="3"/><circle cx="440.5" cy="860.0" r="3"/><circle cx="438.4" cy="865.0" r="3"/><circle cx="441.7" cy="864.8" r="3"/><circle cx="440.5" cy="867.1" r="3"/><circle cx="435.5" cy="874.0" r="3"/><circle cx="431.4" cy="850.5" r="3"/><circle cx="433.7" cy="858.5" r="3"/><circle cx="437.4" cy="862.5" r="3"/><circle cx="434.0" cy="871.7" r="3"/><circle cx="431.0" cy="862.5" r="3"/></g>
<g fill="#2b64f2"><circle cx="426.1" cy="880.1" r="3"/></g>
<g fill="#514adf"><circle cx="419.4" cy="858.1" r="3"/></g>
<g fill="#693ad1"><circle cx="415.4" cy="853.7" r="3"/></g>
<g fill="#e00a73"><circle cx="394.0" cy="862.5" r="3"/></g>
<g fill="#ac0c9a"><circle cx="402.3" cy="864.4" r="3"/></g>
<g fill="#7b2bc4"><circle cx="412.3" cy="854.8" r="3"/><circle cx="412.3" cy="869.0" r="3"/></g>
<g fill="#2d63f1"><circle cx="425.8" cy="860.3" r="3"/><circle cx="425.7" cy="869.1" r="3"/></g>
<g fill="#5a45da"><circle cx="417.9" cy="873.6" r="3"/></g>
<g fill="#e40a6f"><circle cx="393.3" cy="864.6" r="3"/></g>
<g fill="#aa0c9c"><circle cx="402.8" cy="866.3" r="3"/></g>
<g fill="#8720b9"><circle cx="409.7" cy="866.7" r="3"/><circle cx="409.7" cy="855.0" r="3"/></g>
<g fill="#ad0c99"><circle cx="402.2" cy="860.4" r="3"/></g>
<g fill="#3060f0"><circle cx="425.2" cy="843.1" r="3"/><circle cx="425.2" cy="871.3" r="3"/></g>
<g fill="#f70c55"><circle cx="385.0" cy="864.6" r="3"/></g>
<g fill="#2469f4"><circle cx="427.4" cy="864.5" r="3"/><circle cx="427.3" cy="876.5" r="3"/></g>
<g fill="#1e6cf6"><circle cx="428.3" cy="860.3" r="3"/></g>
<g fill="#663cd2"><circle cx="415.9" cy="872.4" r="3"/></g>
<g fill="#6a39d0"><circle cx="415.2" cy="851.6" r="3"/><circle cx="415.2" cy="866.5" r="3"/></g>
<g fill="#653cd3"><circle cx="415.9" cy="862.5" r="3"/><circle cx="416.0" cy="868.4" r="3"/><circle cx="416.0" cy="864.5" r="3"/><circle cx="415.9" cy="876.3" r="3"/></g>
<g fill="#7531c9"><circle cx="413.4" cy="858.6" r="3"/></g>
<g fill="#891eb7"><circle cx="409.3" cy="870.9" r="3"/></g>
<g fill="#8d1ab3"><circle cx="408.4" cy="864.6" r="3"/></g>
<g fill="#5647dc"><circle cx="418.6" cy="849.4" r="3"/></g>
<g fill="#a40d9f"><circle cx="403.7" cy="862.5" r="3"/></g>
<g fill="#355dee"><circle cx="424.3" cy="862.5" r="3"/><circle cx="424.3" cy="845.3" r="3"/><circle cx="424.2" cy="858.2" r="3"/></g>
<g fill="#325fef"><circle cx="424.9" cy="864.7" r="3"/><circle cx="424.8" cy="866.9" r="3"/><circle cx="424.8" cy="856.0" r="3"/></g>
<g fill="#5449de"><circle cx="419.0" cy="869.2" r="3"/></g>
<g fill="#335eef"><circle cx="424.7" cy="851.7" r="3"/></g>
<g fill="#4552e6"><circle cx="421.5" cy="862.5" r="3"/></g>
<g fill="#4850e4"><circle cx="421.0" cy="868.7" r="3"/></g>
<g fill="#f90c52"><circle cx="383.7" cy="860.6" r="3"/></g>
<g fill="#4055e9"><circle cx="422.3" cy="864.6" r="3"/><circle cx="422.3" cy="846.3" r="3"/></g>
<g fill="#1c6ef7"><circle cx="428.8" cy="880.5" r="3"/></g>
<g fill="#f70b56"><circle cx="385.3" cy="862.5" r="3"/></g>
<g fill="#e20a71"><circle cx="393.7" cy="860.6" r="3"/></g>
<g fill="#504bdf"><circle cx="419.5" cy="871.4" r="3"/><circle cx="419.5" cy="875.8" r="3"/><circle cx="419.5" cy="864.7" r="3"/></g>
<g fill="#7d2ac3"><circle cx="412.0" cy="860.6" r="3"/><circle cx="411.9" cy="852.8" r="3"/></g>
<g fill="#f00a61"><circle cx="389.9" cy="862.5" r="3"/><circle cx="389.6" cy="860.6" r="3"/></g>
<g fill="#7332ca"><circle cx="413.7" cy="871.2" r="3"/><circle cx="413.7" cy="866.8" r="3"/></g>
<g fill="#504be0"><circle cx="419.6" cy="860.3" r="3"/><circle cx="419.6" cy="880.3" r="3"/><circle cx="419.6" cy="855.9" r="3"/></g>
<g fill="#3c58eb"><circle cx="423.0" cy="877.1" r="3"/></g>
<g fill="#bf0a8d"><circle cx="399.2" cy="862.5" r="3"/></g>
<g fill="#3e57ea"><circle cx="422.7" cy="875.0" r="3"/><circle cx="422.6" cy="850.3" r="3"/></g>
<g fill="#f40b5a"><circle cx="387.0" cy="862.5" r="3"/></g>
<g fill="#2c63f1"><circle cx="425.9" cy="875.7" r="3"/></g>
<g fill="#2369f5"><circle cx="427.5" cy="858.1" r="3"/></g>
<g fill="#6c37ce"><circle cx="414.8" cy="860.3" r="3"/></g>
<g fill="#5746dc"><circle cx="418.4" cy="851.6" r="3"/></g>
<g fill="#a20da1"><circle cx="404.1" cy="858.3" r="3"/></g>
<g fill="#8a1db6"><circle cx="409.0" cy="858.7" r="3"/></g>
<g fill="#3160ef"><circle cx="425.1" cy="877.9" r="3"/></g>
<g fill="#4651e5"><circle cx="421.2" cy="858.4" r="3"/><circle cx="421.3" cy="852.4" r="3"/></g>
<g fill="#335eee"><circle cx="424.5" cy="853.9" r="3"/></g>
<g fill="#9512ab"><circle cx="406.8" cy="862.5" r="3"/></g>
<g fill="#3f56e9"><circle cx="422.4" cy="854.4" r="3"/><circle cx="422.5" cy="856.4" r="3"/><circle cx="422.5" cy="866.7" r="3"/></g>
<g fill="#3d57ea"><circle cx="422.8" cy="879.2" r="3"/></g>
<g fill="#c00a8c"><circle cx="399.0" cy="860.4" r="3"/></g>
<g fill="#772fc7"><circle cx="413.1" cy="864.7" r="3"/></g>
<g fill="#f50b59"><circle cx="386.6" cy="860.6" r="3"/></g>
<g fill="#2a65f2"><circle cx="426.3" cy="847.4" r="3"/></g>
<g fill="#643dd4"><circle cx="416.2" cy="870.4" r="3"/></g>
<g fill="#5548dd"><circle cx="418.8" cy="847.2" r="3"/></g>
<g fill="#9611aa"><circle cx="406.4" cy="865.0" r="3"/><circle cx="406.5" cy="867.6" r="3"/></g>
<g fill="#643dd3"><circle cx="416.1" cy="849.4" r="3"/></g>
<g fill="#4254e8"><circle cx="422.0" cy="872.9" r="3"/></g>
<g fill="#8522bb"><circle cx="410.3" cy="868.8" r="3"/></g>
<g fill="#a70d9d"><circle cx="403.2" cy="856.2" r="3"/></g>
<g fill="#5945da"><circle cx="418.0" cy="866.9" r="3"/><circle cx="418.0" cy="878.0" r="3"/></g>
<g fill="#226af5"><circle cx="427.6" cy="874.5" r="3"/><circle cx="427.6" cy="849.2" r="3"/><circle cx="427.7" cy="853.6" r="3"/></g>
<g fill="#d30a80"><circle cx="396.6" cy="862.5" r="3"/></g>
<g fill="#1d6df7"><circle cx="428.5" cy="846.9" r="3"/></g>
<g fill="#b40b95"><circle cx="401.0" cy="867.2" r="3"/></g>
<g fill="#6939d0"><circle cx="415.3" cy="858.1" r="3"/></g>
<g fill="#5448dd"><circle cx="418.9" cy="845.0" r="3"/><circle cx="418.9" cy="862.5" r="3"/></g>
<g fill="#7a2cc5"><circle cx="412.5" cy="856.7" r="3"/><circle cx="412.5" cy="862.5" r="3"/></g>
<g fill="#4e4ce1"><circle cx="419.9" cy="853.7" r="3"/></g>
<g fill="#1e6df6"><circle cx="428.3" cy="878.5" r="3"/></g>
<g fill="#b70a92"><circle cx="400.3" cy="864.9" r="3"/></g>
<g fill="#f40b59"><circle cx="386.7" cy="864.6" r="3"/></g>
<g fill="#6d36ce"><circle cx="414.7" cy="874.4" r="3"/></g>
<g fill="#cd0a84"><circle cx="397.4" cy="864.6" r="3"/></g>
<g fill="#881fb8"><circle cx="409.6" cy="860.6" r="3"/></g>
<g fill="#ba0a90"><circle cx="399.8" cy="858.3" r="3"/></g>
<g fill="#b30b95"><circle cx="401.0" cy="856.2" r="3"/></g>
<g fill="#673bd2"><circle cx="415.6" cy="845.0" r="3"/><circle cx="415.7" cy="855.9" r="3"/></g>
<g fill="#1b6ff8"><circle cx="428.9" cy="855.8" r="3"/></g>
<g fill="#345eee"><circle cx="424.5" cy="849.6" r="3"/></g>
<g fill="#9c0ea5"><circle cx="405.3" cy="857.4" r="3"/></g>
<g fill="#d50a7e"><circle cx="396.3" cy="860.6" r="3"/></g>
<g fill="#663bd2"><circle cx="415.8" cy="878.3" r="3"/></g>
<g fill="#2f61f0"><circle cx="425.3" cy="873.5" r="3"/></g>
<g fill="#ee0a64"><circle cx="391.0" cy="864.6" r="3"/></g>
<g fill="#8c1bb4"><circle cx="408.6" cy="862.5" r="3"/></g>
<g fill="#2468f4"><circle cx="427.2" cy="851.4" r="3"/></g>
<g fill="#8423bc"><circle cx="410.5" cy="856.8" r="3"/></g>
<g fill="#4056e9"><circle cx="422.4" cy="870.8" r="3"/></g>
<g fill="#3e56ea"><circle cx="422.6" cy="848.3" r="3"/></g>
<g fill="#1d6ef7"><circle cx="428.6" cy="866.5" r="3"/></g>
<g fill="#216bf5"><circle cx="427.8" cy="870.5" r="3"/></g>
<g fill="#683ad1"><circle cx="415.6" cy="847.2" r="3"/></g>
<g fill="#9314ad"><circle cx="407.2" cy="860.0" r="3"/></g>
<g fill="#a00ea2"><circle cx="421.4" cy="921.8" r="3"/><circle cx="421.3" cy="915.7" r="3"/></g>
<g fill="#1573fa"><circle cx="398.4" cy="923.6" r="3"/><circle cx="401.4" cy="929.6" r="3"/><circle cx="404.5" cy="930.2" r="3"/><circle cx="405.0" cy="921.4" r="3"/><circle cx="406.5" cy="913.0" r="3"/><circle cx="400.2" cy="909.1" r="3"/><circle cx="398.9" cy="921.6" r="3"/><circle cx="397.9" cy="915.3" r="3"/><circle cx="402.9" cy="908.7" r="3"/><circle cx="401.8" cy="913.2" r="3"/><circle cx="398.9" cy="928.2" r="3"/><circle cx="404.3" cy="904.6" r="3"/><circle cx="398.2" cy="917.3" r="3"/><circle cx="404.4" cy="908.8" r="3"/><circle cx="401.9" cy="909.1" r="3"/><circle cx="406.9" cy="917.3" r="3"/><circle cx="400.9" cy="907.0" r="3"/><circle cx="405.5" cy="925.5" r="3"/><circle cx="405.5" cy="927.5" r="3"/><circle cx="402.5" cy="930.0" r="3"/><circle cx="403.8" cy="936.7" r="3"/><circle cx="401.9" cy="917.3" r="3"/><circle cx="405.4" cy="931.5" r="3"/><circle cx="400.8" cy="911.1" r="3"/><circle cx="406.4" cy="930.2" r="3"/><circle cx="405.2" cy="913.2" r="3"/><circle cx="397.7" cy="925.7" r="3"/><circle cx="402.5" cy="923.7" r="3"/><circle cx="406.3" cy="936.7" r="3"/><circle cx="405.0" cy="902.8" r="3"/><circle cx="398.0" cy="921.5" r="3"/><circle cx="405.1" cy="923.4" r="3"/><circle cx="405.2" cy="933.6" r="3"/><circle cx="399.5" cy="915.1" r="3"/><circle cx="405.7" cy="919.4" r="3"/><circle cx="400.7" cy="929.6" r="3"/><circle cx="406.4" cy="928.0" r="3"/><circle cx="403.9" cy="917.3" r="3"/><circle cx="403.0" cy="906.5" r="3"/><circle cx="400.5" cy="927.6" r="3"/><circle cx="406.2" cy="919.4" r="3"/><circle cx="398.9" cy="926.0" r="3"/><circle cx="404.1" cy="902.5" r="3"/><circle cx="404.0" cy="934.5" r="3"/><circle cx="405.7" cy="904.9" r="3"/><circle cx="400.2" cy="923.5" r="3"/><circle cx="406.9" cy="921.6" r="3"/><circle cx="406.7" cy="904.4" r="3"/><circle cx="406.6" cy="915.1" r="3"/><circle cx="400.7" cy="915.3" r="3"/><circle cx="401.3" cy="921.4" r="3"/><circle cx="399.2" cy="919.4" r="3"/><circle cx="395.8" cy="919.4" r="3"/><circle cx="406.9" cy="925.9" r="3"/><circle cx="400.4" cy="919.4" r="3"/><circle cx="403.8" cy="923.7" r="3"/><circle cx="404.2" cy="915.2" r="3"/><circle cx="403.1" cy="913.0" r="3"/><circle cx="397.8" cy="919.4" r="3"/><circle cx="400.3" cy="925.5" r="3"/><circle cx="401.5" cy="925.5" r="3"/><circle cx="405.4" cy="907.0" r="3"/><circle cx="403.8" cy="932.3" r="3"/><circle cx="405.6" cy="900.8" r="3"/><circle cx="406.4" cy="906.5" r="3"/><circle cx="404.1" cy="925.9" r="3"/><circle cx="406.6" cy="908.7" r="3"/><circle cx="399.5" cy="923.8" r="3"/><circle cx="401.4" cy="923.5" r="3"/><circle cx="405.4" cy="929.5" r="3"/><circle cx="401.5" cy="915.3" r="3"/><circle cx="405.5" cy="935.6" r="3"/><circle cx="402.9" cy="915.1" r="3"/><circle cx="402.9" cy="921.5" r="3"/><circle cx="401.7" cy="931.7" r="3"/><circle cx="399.1" cy="930.4" r="3"/><circle cx="403.9" cy="928.0" r="3"/><circle cx="404.2" cy="911.0" r="3"/><circle cx="405.3" cy="911.1" r="3"/><circle cx="397.8" cy="913.2" r="3"/><circle cx="401.3" cy="911.1" r="3"/><circle cx="402.9" cy="925.8" r="3"/><circle cx="405.5" cy="909.0" r="3"/><circle cx="398.1" cy="911.1" r="3"/><circle cx="399.2" cy="912.9" r="3"/><circle cx="402.7" cy="927.9" r="3"/><circle cx="399.0" cy="910.7" r="3"/><circle cx="403.9" cy="919.4" r="3"/><circle cx="398.2" cy="927.8" r="3"/><circle cx="406.2" cy="934.5" r="3"/><circle cx="400.8" cy="921.4" r="3"/><circle cx="406.8" cy="932.3" r="3"/><circle cx="400.1" cy="917.3" r="3"/><circle cx="403.2" cy="919.4" r="3"/><circle cx="397.7" cy="909.1" r="3"/><circle cx="404.1" cy="906.7" r="3"/><circle cx="406.4" cy="923.7" r="3"/><circle cx="405.6" cy="915.3" r="3"/><circle cx="404.3" cy="921.6" r="3"/><circle cx="406.9" cy="902.3" r="3"/><circle cx="398.0" cy="907.0" r="3"/><circle cx="405.6" cy="917.3" r="3"/><circle cx="403.9" cy="913.1" r="3"/><circle cx="400.4" cy="913.2" r="3"/><circle cx="401.4" cy="927.6" r="3"/><circle cx="402.6" cy="910.8" r="3"/><circle cx="406.8" cy="910.8" r="3"/><circle cx="399.6" cy="917.2" r="3"/><circle cx="402.0" cy="919.4" r="3"/><circle cx="398.4" cy="929.9" r="3"/><circle cx="400.3" cy="931.7" r="3"/><circle cx="403.1" cy="917.3" r="3"/><circle cx="401.8" cy="907.0" r="3"/><circle cx="399.3" cy="908.6" r="3"/><circle cx="397.0" cy="919.4" r="3"/><circle cx="403.0" cy="932.2" r="3"/></g>
<g fill="#1e6cf6"><circle cx="407.8" cy="902.8" r="3"/></g>
<g fill="#6d36ce"><circle cx="414.2" cy="915.4" r="3"/></g>
<g fill="#af0c98"><circle cx="423.8" cy="915.7" r="3"/></g>
<g fill="#3060ef"><circle cx="409.5" cy="928.0" r="3"/></g>
<g fill="#a70d9d"><circle cx="422.5" cy="915.7" r="3"/></g>
<g fill="#1a70f8"><circle cx="407.4" cy="932.3" r="3"/><circle cx="407.4" cy="928.0" r="3"/><circle cx="407.4" cy="900.8" r="3"/></g>
<g fill="#f40b59"><circle cx="434.6" cy="921.0" r="3"/></g>
<g fill="#980fa8"><circle cx="420.1" cy="921.3" r="3"/><circle cx="420.0" cy="917.2" r="3"/><circle cx="420.0" cy="915.1" r="3"/></g>
<g fill="#fa0c50"><circle cx="467.2" cy="919.4" r="3"/><circle cx="436.9" cy="921.0" r="3"/><circle cx="474.8" cy="919.4" r="3"/><circle cx="438.6" cy="917.6" r="3"/><circle cx="441.7" cy="921.0" r="3"/><circle cx="439.9" cy="921.0" r="3"/><circle cx="447.4" cy="919.4" r="3"/><circle cx="451.0" cy="919.4" r="3"/><circle cx="442.2" cy="919.4" r="3"/><circle cx="470.0" cy="919.4" r="3"/><circle cx="443.3" cy="919.4" r="3"/><circle cx="462.2" cy="919.4" r="3"/><circle cx="441.1" cy="919.4" r="3"/><circle cx="440.1" cy="917.6" r="3"/><circle cx="444.6" cy="919.4" r="3"/><circle cx="444.4" cy="917.6" r="3"/><circle cx="444.3" cy="921.0" r="3"/><circle cx="477.9" cy="919.4" r="3"/><circle cx="448.2" cy="919.4" r="3"/><circle cx="520.8" cy="919.4" r="3"/><circle cx="440.0" cy="919.4" r="3"/><circle cx="440.8" cy="917.6" r="3"/><circle cx="440.9" cy="921.0" r="3"/><circle cx="446.2" cy="919.4" r="3"/><circle cx="438.5" cy="919.4" r="3"/><circle cx="443.0" cy="921.0" r="3"/><circle cx="438.2" cy="921.0" r="3"/><circle cx="442.2" cy="917.6" r="3"/><circle cx="443.7" cy="917.6" r="3"/><circle cx="436.9" cy="916.4" r="3"/><circle cx="449.6" cy="919.4" r="3"/></g>
<g fill="#8225be"><circle cx="416.3" cy="917.2" r="3"/></g>
<g fill="#4d4de1"><circle cx="411.7" cy="910.9" r="3"/></g>
<g fill="#9017b0"><circle cx="418.6" cy="926.0" r="3"/><circle cx="418.7" cy="917.4" r="3"/></g>
<g fill="#206bf6"><circle cx="408.0" cy="919.4" r="3"/></g>
<g fill="#8a1db6"><circle cx="417.7" cy="921.6" r="3"/><circle cx="417.6" cy="913.7" r="3"/></g>
<g fill="#8324bd"><circle cx="416.4" cy="912.7" r="3"/><circle cx="416.5" cy="919.4" r="3"/></g>
<g fill="#5746dc"><circle cx="412.4" cy="912.8" r="3"/><circle cx="412.4" cy="910.6" r="3"/></g>
<g fill="#2c63f1"><circle cx="409.0" cy="902.2" r="3"/></g>
<g fill="#7d2ac3"><circle cx="415.5" cy="917.4" r="3"/><circle cx="415.5" cy="919.4" r="3"/></g>
<g fill="#a70d9e"><circle cx="422.4" cy="913.9" r="3"/></g>
<g fill="#9e0ea3"><circle cx="421.1" cy="917.6" r="3"/></g>
<g fill="#881fb8"><circle cx="417.3" cy="923.8" r="3"/><circle cx="417.3" cy="915.6" r="3"/></g>
<g fill="#8126bf"><circle cx="416.1" cy="921.3" r="3"/><circle cx="416.1" cy="923.1" r="3"/><circle cx="416.2" cy="910.5" r="3"/></g>
<g fill="#c40a8a"><circle cx="426.6" cy="919.4" r="3"/></g>
<g fill="#3d57ea"><circle cx="410.6" cy="900.8" r="3"/></g>
<g fill="#f10a5f"><circle cx="433.2" cy="916.4" r="3"/><circle cx="433.2" cy="919.4" r="3"/></g>
<g fill="#2965f2"><circle cx="408.8" cy="904.4" r="3"/><circle cx="408.8" cy="913.0" r="3"/></g>
<g fill="#1a6ff8"><circle cx="407.5" cy="911.1" r="3"/></g>
<g fill="#8423bc"><circle cx="416.6" cy="915.0" r="3"/><circle cx="416.6" cy="926.9" r="3"/></g>
<g fill="#385bed"><circle cx="410.1" cy="925.9" r="3"/><circle cx="410.1" cy="936.6" r="3"/><circle cx="410.1" cy="921.6" r="3"/></g>
<g fill="#226af5"><circle cx="408.2" cy="921.6" r="3"/><circle cx="408.2" cy="909.1" r="3"/></g>
<g fill="#891eb7"><circle cx="417.5" cy="917.5" r="3"/><circle cx="417.5" cy="926.0" r="3"/></g>
<g fill="#772fc7"><circle cx="415.0" cy="909.5" r="3"/></g>
<g fill="#1b6ff8"><circle cx="407.5" cy="930.2" r="3"/><circle cx="407.6" cy="915.3" r="3"/><circle cx="407.5" cy="913.2" r="3"/></g>
<g fill="#b50b94"><circle cx="424.8" cy="916.1" r="3"/><circle cx="424.9" cy="924.2" r="3"/><circle cx="424.8" cy="917.7" r="3"/></g>
<g fill="#9b0fa6"><circle cx="420.5" cy="919.4" r="3"/></g>
<g fill="#5e42d8"><circle cx="412.9" cy="923.3" r="3"/><circle cx="412.9" cy="927.2" r="3"/></g>
<g fill="#365ced"><circle cx="410.0" cy="911.1" r="3"/><circle cx="409.9" cy="928.0" r="3"/></g>
<g fill="#f50b59"><circle cx="434.7" cy="916.4" r="3"/></g>
<g fill="#494fe4"><circle cx="411.4" cy="929.8" r="3"/></g>
<g fill="#6d36cd"><circle cx="414.2" cy="919.4" r="3"/></g>
<g fill="#4750e4"><circle cx="411.3" cy="927.8" r="3"/></g>
<g fill="#395aec"><circle cx="410.2" cy="915.3" r="3"/><circle cx="410.2" cy="913.2" r="3"/></g>
<g fill="#2866f3"><circle cx="408.7" cy="908.7" r="3"/><circle cx="408.7" cy="932.3" r="3"/><circle cx="408.7" cy="925.9" r="3"/><circle cx="408.7" cy="910.8" r="3"/></g>
<g fill="#1c6ef7"><circle cx="407.7" cy="923.7" r="3"/><circle cx="407.6" cy="917.3" r="3"/><circle cx="407.6" cy="934.5" r="3"/></g>
<g fill="#2a65f2"><circle cx="408.9" cy="923.7" r="3"/></g>
<g fill="#375ced"><circle cx="410.0" cy="902.8" r="3"/></g>
<g fill="#1f6cf6"><circle cx="407.9" cy="904.9" r="3"/></g>
<g fill="#9116af"><circle cx="418.8" cy="915.4" r="3"/><circle cx="418.8" cy="911.4" r="3"/></g>
<g fill="#3a59ec"><circle cx="410.3" cy="934.5" r="3"/></g>
<g fill="#f10b5f"><circle cx="433.3" cy="921.0" r="3"/></g>
<g fill="#3c58eb"><circle cx="410.5" cy="923.7" r="3"/></g>
<g fill="#4751e5"><circle cx="411.3" cy="913.0" r="3"/><circle cx="411.3" cy="925.7" r="3"/></g>
<g fill="#c20a8b"><circle cx="426.4" cy="917.6" r="3"/><circle cx="426.4" cy="921.7" r="3"/></g>
<g fill="#355dee"><circle cx="409.9" cy="907.0" r="3"/><circle cx="409.9" cy="930.2" r="3"/></g>
<g fill="#9e0ea4"><circle cx="420.9" cy="924.2" r="3"/></g>
<g fill="#7630c8"><circle cx="414.9" cy="923.2" r="3"/></g>
<g fill="#e80a6a"><circle cx="431.2" cy="919.4" r="3"/></g>
<g fill="#8027c0"><circle cx="416.0" cy="925.0" r="3"/></g>
<g fill="#5b43d9"><circle cx="412.7" cy="917.2" r="3"/><circle cx="412.7" cy="925.3" r="3"/></g>
<g fill="#236af5"><circle cx="408.2" cy="925.9" r="3"/></g>
<g fill="#3b59ec"><circle cx="410.4" cy="932.3" r="3"/></g>
<g fill="#4b4ee2"><circle cx="411.6" cy="921.5" r="3"/></g>
<g fill="#1e6df7"><circle cx="407.8" cy="936.7" r="3"/></g>
<g fill="#4552e6"><circle cx="411.2" cy="923.6" r="3"/></g>
<g fill="#6040d6"><circle cx="413.1" cy="921.4" r="3"/><circle cx="413.1" cy="915.0" r="3"/></g>
<g fill="#7530c8"><circle cx="414.9" cy="927.0" r="3"/><circle cx="414.8" cy="921.3" r="3"/></g>
<g fill="#ee0a63"><circle cx="432.2" cy="921.0" r="3"/></g>
<g fill="#ae0c99"><circle cx="423.7" cy="921.9" r="3"/><circle cx="423.6" cy="919.4" r="3"/></g>
<g fill="#b80a92"><circle cx="425.4" cy="921.8" r="3"/></g>
<g fill="#375bed"><circle cx="410.1" cy="904.9" r="3"/></g>
<g fill="#ee0a64"><circle cx="432.0" cy="919.4" r="3"/></g>
<g fill="#a80d9d"><circle cx="422.7" cy="921.2" r="3"/><circle cx="422.6" cy="917.6" r="3"/><circle cx="422.6" cy="923.0" r="3"/></g>
<g fill="#2e62f0"><circle cx="409.3" cy="919.4" r="3"/><circle cx="409.3" cy="930.2" r="3"/><circle cx="409.3" cy="917.3" r="3"/><circle cx="409.2" cy="915.1" r="3"/><circle cx="409.3" cy="906.5" r="3"/></g>
<g fill="#3d58eb"><circle cx="410.5" cy="919.4" r="3"/></g>
<g fill="#6e35cd"><circle cx="414.3" cy="923.3" r="3"/><circle cx="414.3" cy="909.5" r="3"/></g>
<g fill="#df0a74"><circle cx="429.7" cy="919.4" r="3"/></g>
<g fill="#7c2bc3"><circle cx="415.4" cy="911.5" r="3"/><circle cx="415.4" cy="925.1" r="3"/></g>
<g fill="#3b59eb"><circle cx="410.4" cy="909.1" r="3"/></g>
<g fill="#3060f0"><circle cx="409.4" cy="934.5" r="3"/></g>
<g fill="#9314ad"><circle cx="419.1" cy="923.8" r="3"/><circle cx="419.2" cy="913.4" r="3"/></g>
<g fill="#8f18b1"><circle cx="418.5" cy="919.4" r="3"/></g>
<g fill="#d80a7b"><circle cx="428.7" cy="919.4" r="3"/></g>
<g fill="#fa0c51"><circle cx="436.9" cy="919.4" r="3"/></g>
<g fill="#ef0a63"><circle cx="432.2" cy="916.6" r="3"/></g>
<g fill="#6c37ce"><circle cx="414.1" cy="913.5" r="3"/></g>
<g fill="#4c4de2"><circle cx="411.7" cy="919.4" r="3"/><circle cx="411.7" cy="915.1" r="3"/></g>
<g fill="#f80c54"><circle cx="436.1" cy="919.4" r="3"/></g>
<g fill="#b60a93"><circle cx="425.0" cy="919.4" r="3"/></g>
<g fill="#b00b97"><circle cx="424.1" cy="917.6" r="3"/></g>
<g fill="#5c43d9"><circle cx="412.8" cy="919.4" r="3"/></g>
<g fill="#f80c53"><circle cx="436.2" cy="921.0" r="3"/></g>
<g fill="#673bd2"><circle cx="413.7" cy="927.2" r="3"/><circle cx="413.6" cy="921.4" r="3"/></g>
<g fill="#990fa7"><circle cx="420.1" cy="923.2" r="3"/></g>
<g fill="#6b37cf"><circle cx="414.0" cy="917.4" r="3"/></g>
<g fill="#d00a82"><circle cx="427.8" cy="919.4" r="3"/></g>
<g fill="#a10ea2"><circle cx="421.4" cy="913.9" r="3"/></g>
<g fill="#7b2cc5"><circle cx="415.3" cy="913.5" r="3"/></g>
<g fill="#2a64f2"><circle cx="408.9" cy="921.6" r="3"/></g>
<g fill="#6939d0"><circle cx="413.8" cy="929.2" r="3"/></g>
<g fill="#9215ae"><circle cx="419.0" cy="921.6" r="3"/></g>
<g fill="#2d62f1"><circle cx="409.2" cy="936.7" r="3"/></g>
<g fill="#8b1cb5"><circle cx="417.9" cy="919.4" r="3"/></g>
<g fill="#3a5aec"><circle cx="410.3" cy="917.3" r="3"/></g>
<g fill="#673ad1"><circle cx="413.7" cy="925.3" r="3"/></g>
<g fill="#5a44da"><circle cx="412.6" cy="929.2" r="3"/></g>
<g fill="#4c4ee2"><circle cx="411.6" cy="917.3" r="3"/></g>
<g fill="#f50b58"><circle cx="435.0" cy="919.4" r="3"/></g>
<g fill="#ad0c99"><circle cx="423.5" cy="913.9" r="3"/></g>
<g fill="#a20ea1"><circle cx="421.6" cy="919.4" r="3"/></g>
<g fill="#683ad1"><circle cx="413.7" cy="911.5" r="3"/></g>
<g fill="#1e6df6"><circle cx="407.8" cy="907.0" r="3"/></g>
<g fill="#f70b55"><circle cx="435.7" cy="916.4" r="3"/></g>
<g fill="#ea0a69"><circle cx="431.3" cy="920.5" r="3"/></g>
<g fill="#9710a9"><circle cx="419.9" cy="925.2" r="3"/></g>
<g fill="#a90c9c"><circle cx="422.8" cy="919.4" r="3"/></g>
<g fill="#782ec7"><circle cx="415.0" cy="915.4" r="3"/></g>
<line x1="103" x2="643.5" y1="975.8" y2="975.8" stroke="#333" stroke-width="1.2"/>
<line x1="129.0" x2="129.0" y1="975.8" y2="981.8" stroke="#333" stroke-width="1.2"/>
<text x="129.0" y="998.3" font-size="16.6" text-anchor="middle" font-family="DejaVu Sans, Liberation Sans, sans-serif" stroke="#000" stroke-width="0.22" fill="#000" >−0.3</text>
<line x1="223.9" x2="223.9" y1="975.8" y2="981.8" stroke="#333" stroke-width="1.2"/>
<text x="223.9" y="998.3" font-size="16.6" text-anchor="middle" font-family="DejaVu Sans, Liberation Sans, sans-serif" stroke="#000" stroke-width="0.22" fill="#000" >−0.2</text>
<line x1="318.8" x2="318.8" y1="975.8" y2="981.8" stroke="#333" stroke-width="1.2"/>
<text x="318.8" y="998.3" font-size="16.6" text-anchor="middle" font-family="DejaVu Sans, Liberation Sans, sans-serif" stroke="#000" stroke-width="0.22" fill="#000" >−0.1</text>
<line x1="413.70000000000005" x2="413.70000000000005" y1="975.8" y2="981.8" stroke="#333" stroke-width="1.2"/>
<text x="413.70000000000005" y="998.3" font-size="16.6" text-anchor="middle" font-family="DejaVu Sans, Liberation Sans, sans-serif" stroke="#000" stroke-width="0.22" fill="#000" >0.0</text>
<line x1="508.6" x2="508.6" y1="975.8" y2="981.8" stroke="#333" stroke-width="1.2"/>
<text x="508.6" y="998.3" font-size="16.6" text-anchor="middle" font-family="DejaVu Sans, Liberation Sans, sans-serif" stroke="#000" stroke-width="0.22" fill="#000" >0.1</text>
<line x1="603.5" x2="603.5" y1="975.8" y2="981.8" stroke="#333" stroke-width="1.2"/>
<text x="603.5" y="998.3" font-size="16.6" text-anchor="middle" font-family="DejaVu Sans, Liberation Sans, sans-serif" stroke="#000" stroke-width="0.22" fill="#000" >0.2</text>
<rect x="676.6" y="749.7" width="2.4" height="226.0999999999999" fill="url(#cb)"/>
<text x="684.2" y="756.7" font-size="16.4" text-anchor="start" font-family="DejaVu Sans, Liberation Sans, sans-serif" stroke="#000" stroke-width="0.22" fill="#000" >High</text>
<text x="684.2" y="982.3" font-size="16.4" text-anchor="start" font-family="DejaVu Sans, Liberation Sans, sans-serif" stroke="#000" stroke-width="0.22" fill="#000" >Low</text>
<text transform="translate(735.3,862.75) rotate(-90)" font-size="18.4" text-anchor="middle" font-family="DejaVu Sans, Liberation Sans, sans-serif" stroke="#000" stroke-width="0.22">Feature value</text>
<text transform="translate(782.4,727.6) scale(0.94,1)" font-size="28.8" font-weight="bold" stroke="#000" stroke-width="0.5" font-family="Liberation Sans, sans-serif" fill="#000">F</text>
<rect x="852" y="786.1" width="643" height="39.8" fill="#1573fa"/>
<text x="840.8" y="813.6" font-size="19.7" text-anchor="end" font-family="DejaVu Sans, Liberation Sans, sans-serif" stroke="#000" stroke-width="0.22" fill="#000" >IgA</text>
<rect x="852" y="842.6" width="288" height="39.8" fill="#1573fa"/>
<text x="840.8" y="870.1" font-size="19.7" text-anchor="end" font-family="DejaVu Sans, Liberation Sans, sans-serif" stroke="#000" stroke-width="0.22" fill="#000" >IgG</text>
<rect x="852" y="899.1" width="167" height="39.8" fill="#1573fa"/>
<text x="840.8" y="926.6" font-size="19.7" text-anchor="end" font-family="DejaVu Sans, Liberation Sans, sans-serif" stroke="#000" stroke-width="0.22" fill="#000" >IgM</text>
<line x1="852" x2="852" y1="749.7" y2="975.8" stroke="#4a4a4a" stroke-width="0.9"/>
<line x1="851.5" x2="1527.5" y1="975.8" y2="975.8" stroke="#333" stroke-width="1.2"/>
<line x1="851.8" x2="851.8" y1="975.8" y2="981.8" stroke="#333" stroke-width="1.2"/>
<text x="851.8" y="998.3" font-size="16.6" text-anchor="middle" font-family="DejaVu Sans, Liberation Sans, sans-serif" stroke="#000" stroke-width="0.22" fill="#000" >0.000</text>
<line x1="933.03" x2="933.03" y1="975.8" y2="981.8" stroke="#333" stroke-width="1.2"/>
<text x="933.03" y="998.3" font-size="16.6" text-anchor="middle" font-family="DejaVu Sans, Liberation Sans, sans-serif" stroke="#000" stroke-width="0.22" fill="#000" >0.005</text>
<line x1="1014.26" x2="1014.26" y1="975.8" y2="981.8" stroke="#333" stroke-width="1.2"/>
<text x="1014.26" y="998.3" font-size="16.6" text-anchor="middle" font-family="DejaVu Sans, Liberation Sans, sans-serif" stroke="#000" stroke-width="0.22" fill="#000" >0.010</text>
<line x1="1095.49" x2="1095.49" y1="975.8" y2="981.8" stroke="#333" stroke-width="1.2"/>
<text x="1095.49" y="998.3" font-size="16.6" text-anchor="middle" font-family="DejaVu Sans, Liberation Sans, sans-serif" stroke="#000" stroke-width="0.22" fill="#000" >0.015</text>
<line x1="1176.72" x2="1176.72" y1="975.8" y2="981.8" stroke="#333" stroke-width="1.2"/>
<text x="1176.72" y="998.3" font-size="16.6" text-anchor="middle" font-family="DejaVu Sans, Liberation Sans, sans-serif" stroke="#000" stroke-width="0.22" fill="#000" >0.020</text>
<line x1="1257.95" x2="1257.95" y1="975.8" y2="981.8" stroke="#333" stroke-width="1.2"/>
<text x="1257.95" y="998.3" font-size="16.6" text-anchor="middle" font-family="DejaVu Sans, Liberation Sans, sans-serif" stroke="#000" stroke-width="0.22" fill="#000" >0.025</text>
<line x1="1339.1799999999998" x2="1339.1799999999998" y1="975.8" y2="981.8" stroke="#333" stroke-width="1.2"/>
<text x="1339.1799999999998" y="998.3" font-size="16.6" text-anchor="middle" font-family="DejaVu Sans, Liberation Sans, sans-serif" stroke="#000" stroke-width="0.22" fill="#000" >0.030</text>
<line x1="1420.4099999999999" x2="1420.4099999999999" y1="975.8" y2="981.8" stroke="#333" stroke-width="1.2"/>
<text x="1420.4099999999999" y="998.3" font-size="16.6" text-anchor="middle" font-family="DejaVu Sans, Liberation Sans, sans-serif" stroke="#000" stroke-width="0.22" fill="#000" >0.035</text>
<line x1="1501.6399999999999" x2="1501.6399999999999" y1="975.8" y2="981.8" stroke="#333" stroke-width="1.2"/>
<text x="1501.6399999999999" y="998.3" font-size="16.6" text-anchor="middle" font-family="DejaVu Sans, Liberation Sans, sans-serif" stroke="#000" stroke-width="0.22" fill="#000" >0.040</text>
<text x="426.3" y="1033.3" font-size="18.4" text-anchor="middle" font-family="DejaVu Sans Condensed, DejaVu Sans, Liberation Sans, sans-serif" fill="#525252" textLength="132" lengthAdjust="spacingAndGlyphs" stroke="#525252" stroke-width="0.45">Sharpley values</text>
<text x="1174" y="1033.3" font-size="18.4" text-anchor="middle" font-family="DejaVu Sans Condensed, DejaVu Sans, Liberation Sans, sans-serif" fill="#525252" textLength="206.5" lengthAdjust="spacingAndGlyphs" stroke="#525252" stroke-width="0.45">Average Sharpley values</text>
</svg>
</body></html>
